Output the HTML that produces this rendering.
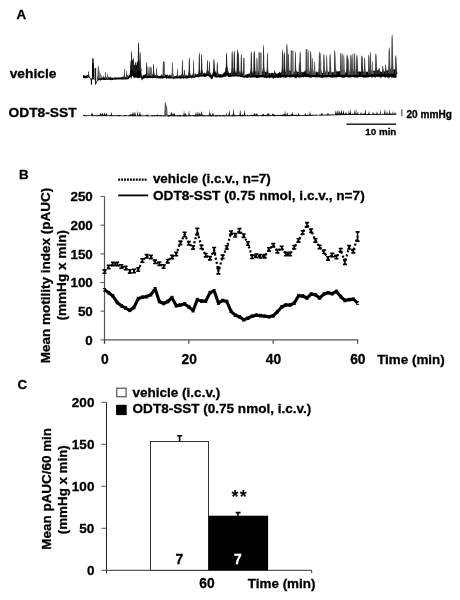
<!DOCTYPE html>
<html><head><meta charset="utf-8"><title>Figure</title>
<style>
html,body{margin:0;padding:0;background:#fff;}
svg{display:block;font-family:"Liberation Sans",sans-serif;font-weight:bold;fill:#000;}
text{stroke:#000;stroke-width:0.3px;}
</style></head><body>
<svg width="460" height="600" viewBox="0 0 460 600">
<rect width="460" height="600" fill="#fff"/>
<text x="16.6" y="18.7" font-size="13.4" text-anchor="start" >A</text>
<text transform="translate(9.7,77.6) scale(1.034,1)" font-size="13.35" text-anchor="start" >vehicle</text>
<text transform="translate(8.5,117.3) scale(1.034,1)" font-size="13.35" text-anchor="start" >ODT8-SST</text>
<polygon points="83.0,74.7 83.4,75.1 83.8,75.5 84.2,75.3 84.6,75.6 85.0,75.6 85.4,75.9 85.8,75.8 86.2,75.4 86.6,75.5 87.0,75.4 87.4,75.0 87.8,75.0 88.2,75.2 88.6,75.9 89.0,76.2 89.4,76.5 89.8,77.0 90.2,77.7 90.6,78.3 91.0,79.7 91.4,81.7 91.8,80.2 92.2,72.7 92.6,67.2 93.0,66.8 93.4,67.3 93.8,69.7 94.2,74.6 94.6,76.5 95.0,78.3 95.4,80.6 95.8,82.6 96.2,82.3 96.6,81.2 97.0,80.4 97.4,79.8 97.8,77.7 98.2,78.5 98.6,78.0 99.0,77.6 99.4,77.5 99.8,77.4 100.2,77.5 100.6,77.4 101.0,77.2 101.4,75.8 101.8,77.5 102.2,77.6 102.6,77.2 103.0,77.1 103.4,75.0 103.8,77.5 104.2,77.5 104.6,77.6 105.0,77.7 105.4,75.9 105.8,77.9 106.2,77.6 106.6,77.5 107.0,77.4 107.4,77.5 107.8,77.7 108.2,77.7 108.6,75.8 109.0,77.5 109.4,77.3 109.8,77.4 110.2,77.5 110.6,76.1 111.0,77.7 111.4,77.7 111.8,77.6 112.2,77.7 112.6,77.8 113.0,77.7 113.4,77.7 113.8,77.7 114.2,77.5 114.6,77.6 115.0,77.4 115.4,77.3 115.8,77.5 116.2,77.3 116.6,77.7 117.0,77.6 117.4,77.6 117.8,77.3 118.2,77.3 118.6,77.5 119.0,77.5 119.4,77.4 119.8,77.5 120.2,77.3 120.6,77.4 121.0,77.2 121.4,77.3 121.8,77.2 122.2,77.3 122.6,76.2 123.0,77.2 123.4,77.2 123.8,77.3 124.2,77.0 124.6,77.0 125.0,76.9 125.4,76.9 125.8,77.0 126.2,77.0 126.6,74.9 127.0,77.3 127.4,75.2 127.8,75.0 128.2,76.5 128.6,76.2 129.0,73.9 129.4,75.3 129.8,75.0 130.2,69.2 130.6,60.4 131.0,61.4 131.4,62.5 131.8,62.2 132.2,59.4 132.6,59.6 133.0,61.6 133.4,63.8 133.8,65.7 134.2,65.3 134.6,65.2 135.0,63.9 135.4,66.6 135.8,65.9 136.2,65.5 136.6,64.3 137.0,61.0 137.4,61.2 137.8,63.1 138.2,60.9 138.6,61.5 139.0,61.4 139.4,59.2 139.8,61.4 140.2,64.0 140.6,67.3 141.0,69.6 141.4,72.6 141.8,75.6 142.2,76.7 142.6,75.7 143.0,75.2 143.4,75.0 143.8,75.1 144.2,75.1 144.6,74.7 145.0,74.3 145.4,74.4 145.8,74.6 146.2,74.5 146.6,74.1 147.0,74.0 147.4,74.4 147.8,74.2 148.2,74.2 148.6,74.1 149.0,74.1 149.4,74.0 149.8,74.2 150.2,74.4 150.6,74.4 151.0,74.7 151.4,74.9 151.8,74.7 152.2,74.4 152.6,74.9 153.0,75.2 153.4,74.8 153.8,75.2 154.2,75.1 154.6,74.9 155.0,75.0 155.4,75.2 155.8,75.2 156.2,74.1 156.6,75.6 157.0,75.8 157.4,75.3 157.8,75.1 158.2,75.8 158.6,75.9 159.0,75.7 159.4,75.9 159.8,75.9 160.2,75.9 160.6,75.6 161.0,75.5 161.4,75.5 161.8,73.6 162.2,75.8 162.6,75.4 163.0,75.3 163.4,75.3 163.8,75.2 164.2,75.3 164.6,74.9 165.0,74.8 165.4,75.0 165.8,74.3 166.2,75.1 166.6,75.1 167.0,75.4 167.4,73.9 167.8,75.6 168.2,76.0 168.6,76.0 169.0,74.0 169.4,76.0 169.8,74.0 170.2,76.0 170.6,74.3 171.0,75.8 171.4,75.9 171.8,76.1 172.2,73.9 172.6,76.1 173.0,76.1 173.4,76.1 173.8,76.1 174.2,76.2 174.6,76.4 175.0,76.2 175.4,76.0 175.8,76.0 176.2,75.8 176.6,76.0 177.0,73.8 177.4,76.2 177.8,76.1 178.2,76.3 178.6,76.0 179.0,76.1 179.4,75.7 179.8,75.0 180.2,75.6 180.6,75.5 181.0,75.4 181.4,73.9 181.8,75.3 182.2,75.2 182.6,75.4 183.0,75.3 183.4,75.2 183.8,75.6 184.2,75.7 184.6,75.2 185.0,75.2 185.4,75.3 185.8,75.7 186.2,73.9 186.6,76.0 187.0,75.4 187.4,75.5 187.8,75.4 188.2,75.3 188.6,75.2 189.0,75.3 189.4,75.0 189.8,75.2 190.2,75.3 190.6,75.2 191.0,75.3 191.4,75.4 191.8,75.1 192.2,73.1 192.6,75.4 193.0,75.1 193.4,73.9 193.8,74.8 194.2,74.8 194.6,75.2 195.0,75.1 195.4,72.3 195.8,74.4 196.2,74.5 196.6,74.6 197.0,74.4 197.4,74.2 197.8,74.1 198.2,73.7 198.6,73.9 199.0,73.5 199.4,73.8 199.8,73.6 200.2,73.4 200.6,73.4 201.0,73.5 201.4,73.2 201.8,72.9 202.2,73.1 202.6,73.2 203.0,73.1 203.4,73.5 203.8,73.5 204.2,72.1 204.6,73.8 205.0,73.5 205.4,73.3 205.8,73.2 206.2,73.1 206.6,72.5 207.0,72.7 207.4,72.2 207.8,71.9 208.2,70.1 208.6,71.9 209.0,72.1 209.4,72.8 209.8,73.3 210.2,73.2 210.6,73.8 211.0,74.2 211.4,74.7 211.8,75.2 212.2,74.9 212.6,73.3 213.0,71.7 213.4,70.1 213.8,68.7 214.2,69.3 214.6,69.9 215.0,71.2 215.4,72.0 215.8,72.3 216.2,73.2 216.6,73.2 217.0,73.2 217.4,72.6 217.8,73.4 218.2,73.2 218.6,74.0 219.0,74.0 219.4,74.4 219.8,74.3 220.2,74.2 220.6,73.8 221.0,74.0 221.4,74.3 221.8,74.7 222.2,74.6 222.6,74.2 223.0,73.9 223.4,72.9 223.8,72.8 224.2,72.7 224.6,71.7 225.0,71.8 225.4,70.8 225.8,67.1 226.2,68.3 226.6,68.5 227.0,65.3 227.4,68.1 227.8,70.3 228.2,70.7 228.6,71.9 229.0,73.4 229.4,72.9 229.8,73.3 230.2,73.3 230.6,72.2 231.0,72.9 231.4,72.7 231.8,72.7 232.2,72.3 232.6,72.3 233.0,72.5 233.4,72.4 233.8,72.4 234.2,72.9 234.6,72.6 235.0,73.0 235.4,72.6 235.8,72.6 236.2,72.5 236.6,72.4 237.0,72.6 237.4,72.2 237.8,70.9 238.2,72.8 238.6,72.9 239.0,73.0 239.4,71.7 239.8,71.8 240.2,73.0 240.6,73.1 241.0,73.6 241.4,73.9 241.8,73.7 242.2,71.3 242.6,73.5 243.0,73.5 243.4,73.8 243.8,74.5 244.2,74.1 244.6,74.4 245.0,74.3 245.4,74.8 245.8,74.7 246.2,74.7 246.6,74.2 247.0,74.6 247.4,74.1 247.8,73.8 248.2,73.9 248.6,73.8 249.0,73.7 249.4,73.1 249.8,73.5 250.2,73.3 250.6,71.0 251.0,72.8 251.4,70.9 251.8,72.8 252.2,72.2 252.6,72.5 253.0,73.1 253.4,71.0 253.8,72.7 254.2,72.9 254.6,72.8 255.0,72.1 255.4,71.0 255.8,72.6 256.2,72.9 256.6,72.7 257.0,72.8 257.4,72.7 257.8,71.7 258.2,71.5 258.6,71.6 259.0,71.3 259.4,70.8 259.8,72.0 260.2,72.1 260.6,72.2 261.0,71.9 261.4,72.2 261.8,71.6 262.2,70.2 262.6,72.3 263.0,72.5 263.4,72.8 263.8,71.6 264.2,71.6 264.6,72.2 265.0,71.6 265.4,71.5 265.8,72.3 266.2,71.9 266.6,72.0 267.0,72.3 267.4,73.0 267.8,73.2 268.2,73.5 268.6,73.5 269.0,73.0 269.4,72.7 269.8,73.4 270.2,73.8 270.6,73.3 271.0,73.0 271.4,72.9 271.8,73.0 272.2,72.6 272.6,73.1 273.0,73.6 273.4,73.3 273.8,73.1 274.2,72.6 274.6,72.4 275.0,72.2 275.4,72.4 275.8,73.0 276.2,73.3 276.6,73.5 277.0,73.7 277.4,73.5 277.8,73.8 278.2,73.4 278.6,73.1 279.0,72.4 279.4,72.3 279.8,71.8 280.2,72.5 280.6,72.8 281.0,72.9 281.4,72.3 281.8,72.3 282.2,71.3 282.6,71.3 283.0,69.9 283.4,71.5 283.8,72.1 284.2,72.2 284.6,72.4 285.0,72.2 285.4,71.5 285.8,71.9 286.2,71.8 286.6,71.7 287.0,70.2 287.4,71.8 287.8,70.1 288.2,70.7 288.6,71.1 289.0,68.8 289.4,70.9 289.8,71.2 290.2,70.0 290.6,70.9 291.0,70.7 291.4,71.8 291.8,72.2 292.2,71.2 292.6,71.0 293.0,71.1 293.4,71.1 293.8,71.8 294.2,71.8 294.6,72.7 295.0,72.9 295.4,72.8 295.8,72.3 296.2,72.3 296.6,70.7 297.0,70.3 297.4,72.1 297.8,72.3 298.2,71.9 298.6,72.3 299.0,72.0 299.4,71.7 299.8,72.2 300.2,72.1 300.6,72.0 301.0,72.4 301.4,71.9 301.8,71.9 302.2,71.7 302.6,72.5 303.0,72.5 303.4,71.9 303.8,71.6 304.2,71.9 304.6,71.0 305.0,70.5 305.4,70.5 305.8,70.3 306.2,70.7 306.6,69.6 307.0,69.3 307.4,69.1 307.8,70.4 308.2,71.2 308.6,70.9 309.0,71.7 309.4,71.6 309.8,71.5 310.2,72.2 310.6,72.4 311.0,72.6 311.4,72.5 311.8,72.2 312.2,72.8 312.6,72.7 313.0,72.9 313.4,73.2 313.8,70.3 314.2,72.0 314.6,72.6 315.0,72.3 315.4,72.8 315.8,72.4 316.2,72.3 316.6,70.5 317.0,72.6 317.4,72.2 317.8,72.3 318.2,72.3 318.6,72.7 319.0,72.9 319.4,72.6 319.8,72.7 320.2,71.1 320.6,72.5 321.0,72.1 321.4,72.6 321.8,72.4 322.2,73.1 322.6,73.0 323.0,73.1 323.4,72.2 323.8,72.4 324.2,72.7 324.6,72.6 325.0,73.2 325.4,72.7 325.8,70.2 326.2,71.9 326.6,72.5 327.0,72.6 327.4,70.5 327.8,72.5 328.2,72.0 328.6,71.7 329.0,71.5 329.4,71.6 329.8,71.9 330.2,72.5 330.6,72.0 331.0,71.8 331.4,72.5 331.8,71.9 332.2,72.5 332.6,71.9 333.0,72.5 333.4,72.2 333.8,72.2 334.2,71.5 334.6,71.6 335.0,72.5 335.4,72.0 335.8,72.2 336.2,69.7 336.6,71.7 337.0,71.6 337.4,71.6 337.8,71.3 338.2,71.4 338.6,71.3 339.0,71.3 339.4,71.1 339.8,71.5 340.2,71.2 340.6,71.9 341.0,71.5 341.4,72.0 341.8,72.4 342.2,72.3 342.6,71.2 343.0,71.1 343.4,71.1 343.8,71.2 344.2,71.3 344.6,71.7 345.0,72.7 345.4,72.5 345.8,72.6 346.2,71.9 346.6,72.0 347.0,70.3 347.4,72.2 347.8,72.7 348.2,71.1 348.6,72.4 349.0,72.3 349.4,72.8 349.8,71.8 350.2,71.8 350.6,71.9 351.0,72.0 351.4,71.2 351.8,71.3 352.2,71.0 352.6,71.7 353.0,72.2 353.4,71.8 353.8,71.1 354.2,71.5 354.6,70.0 355.0,71.3 355.4,71.9 355.8,72.0 356.2,71.6 356.6,70.9 357.0,70.9 357.4,70.9 357.8,71.7 358.2,71.6 358.6,72.0 359.0,71.6 359.4,71.2 359.8,71.5 360.2,72.1 360.6,71.6 361.0,71.4 361.4,71.1 361.8,71.0 362.2,70.7 362.6,71.2 363.0,71.7 363.4,71.8 363.8,72.0 364.2,71.7 364.6,71.9 365.0,72.0 365.4,71.4 365.8,72.1 366.2,71.6 366.6,72.0 367.0,72.2 367.4,71.5 367.8,71.6 368.2,71.5 368.6,71.3 369.0,71.4 369.4,70.8 369.8,69.4 370.2,72.0 370.6,71.1 371.0,71.3 371.4,70.9 371.8,70.7 372.2,71.8 372.6,71.4 373.0,71.5 373.4,70.7 373.8,70.5 374.2,70.8 374.6,70.7 375.0,70.9 375.4,70.9 375.8,70.7 376.2,70.6 376.6,69.3 377.0,70.2 377.4,69.7 377.8,70.4 378.2,70.2 378.6,69.7 379.0,69.6 379.4,70.9 379.8,71.4 380.2,70.9 380.6,71.4 381.0,71.8 381.4,71.9 381.8,72.1 382.2,71.2 382.6,70.3 383.0,70.7 383.4,71.3 383.8,69.0 384.2,71.3 384.6,71.6 385.0,71.4 385.4,71.1 385.8,70.0 386.2,70.5 386.6,70.4 387.0,70.2 387.4,69.6 387.8,71.0 388.2,70.4 388.6,70.4 389.0,70.7 389.4,69.0 389.8,67.5 390.2,68.7 390.6,69.7 391.0,69.3 391.4,68.5 391.8,69.2 392.2,67.7 392.6,69.5 393.0,69.8 393.4,69.5 393.8,69.2 394.2,69.2 394.6,69.2 395.0,69.7 395.4,69.3 395.8,70.0 396.2,70.1 396.6,69.8 396.6,77.4 396.2,77.5 395.8,78.0 395.4,77.9 395.0,77.5 394.6,77.7 394.2,77.8 393.8,77.2 393.4,78.0 393.0,77.8 392.6,77.6 392.2,77.5 391.8,77.4 391.4,77.4 391.0,76.9 390.6,76.8 390.2,76.8 389.8,78.0 389.4,77.2 389.0,77.5 388.6,78.9 388.2,76.9 387.8,77.3 387.4,78.1 387.0,77.2 386.6,76.8 386.2,76.9 385.8,77.5 385.4,77.7 385.0,77.6 384.6,77.4 384.2,77.1 383.8,77.0 383.4,76.9 383.0,76.6 382.6,76.7 382.2,77.0 381.8,77.4 381.4,77.5 381.0,77.3 380.6,77.6 380.2,77.7 379.8,77.0 379.4,77.2 379.0,77.0 378.6,76.9 378.2,76.6 377.8,76.7 377.4,77.2 377.0,76.7 376.6,76.7 376.2,77.3 375.8,77.3 375.4,77.4 375.0,77.5 374.6,77.3 374.2,77.4 373.8,76.8 373.4,77.0 373.0,77.1 372.6,77.4 372.2,77.3 371.8,78.5 371.4,76.7 371.0,76.9 370.6,76.7 370.2,76.9 369.8,77.1 369.4,77.1 369.0,76.9 368.6,77.4 368.2,77.4 367.8,77.6 367.4,77.6 367.0,77.5 366.6,77.6 366.2,77.5 365.8,77.4 365.4,77.7 365.0,77.8 364.6,77.6 364.2,77.5 363.8,77.7 363.4,77.6 363.0,77.4 362.6,77.5 362.2,77.0 361.8,77.0 361.4,76.9 361.0,76.9 360.6,77.1 360.2,77.2 359.8,76.9 359.4,77.0 359.0,77.0 358.6,77.3 358.2,77.4 357.8,77.6 357.4,77.8 357.0,77.7 356.6,77.6 356.2,77.5 355.8,77.4 355.4,77.3 355.0,77.8 354.6,77.7 354.2,77.4 353.8,77.0 353.4,77.4 353.0,77.1 352.6,76.9 352.2,77.2 351.8,77.4 351.4,77.2 351.0,77.1 350.6,77.5 350.2,77.5 349.8,77.5 349.4,77.8 349.0,77.3 348.6,77.6 348.2,77.4 347.8,77.2 347.4,77.1 347.0,77.7 346.6,77.1 346.2,77.1 345.8,77.1 345.4,77.4 345.0,77.3 344.6,77.7 344.2,77.6 343.8,77.7 343.4,77.7 343.0,77.8 342.6,77.7 342.2,77.6 341.8,77.4 341.4,77.5 341.0,77.4 340.6,77.1 340.2,77.0 339.8,76.9 339.4,76.9 339.0,77.0 338.6,76.9 338.2,76.9 337.8,77.0 337.4,77.0 337.0,77.8 336.6,77.3 336.2,77.7 335.8,77.4 335.4,77.4 335.0,77.4 334.6,77.2 334.2,77.4 333.8,77.6 333.4,77.2 333.0,77.2 332.6,78.2 332.2,77.4 331.8,77.5 331.4,77.6 331.0,77.4 330.6,78.2 330.2,77.0 329.8,77.3 329.4,77.1 329.0,77.2 328.6,77.1 328.2,77.3 327.8,77.4 327.4,77.3 327.0,77.6 326.6,77.5 326.2,77.4 325.8,77.3 325.4,77.5 325.0,77.2 324.6,77.3 324.2,77.5 323.8,77.5 323.4,77.4 323.0,77.6 322.6,77.9 322.2,77.9 321.8,77.7 321.4,77.7 321.0,77.5 320.6,77.6 320.2,77.4 319.8,77.6 319.4,77.4 319.0,77.3 318.6,77.1 318.2,77.5 317.8,77.2 317.4,77.3 317.0,77.4 316.6,77.2 316.2,77.4 315.8,77.4 315.4,77.2 315.0,77.1 314.6,77.2 314.2,77.2 313.8,77.1 313.4,77.4 313.0,77.0 312.6,77.1 312.2,77.2 311.8,77.5 311.4,77.5 311.0,77.5 310.6,77.5 310.2,78.3 309.8,77.6 309.4,77.7 309.0,77.6 308.6,77.0 308.2,76.7 307.8,77.1 307.4,77.2 307.0,77.2 306.6,77.2 306.2,77.0 305.8,77.2 305.4,76.9 305.0,76.7 304.6,76.8 304.2,77.0 303.8,76.9 303.4,78.1 303.0,77.1 302.6,77.2 302.2,77.0 301.8,77.2 301.4,77.2 301.0,77.2 300.6,77.5 300.2,77.2 299.8,78.4 299.4,77.1 299.0,77.6 298.6,77.7 298.2,77.4 297.8,77.1 297.4,77.1 297.0,77.3 296.6,77.8 296.2,78.7 295.8,77.5 295.4,77.7 295.0,78.7 294.6,77.5 294.2,77.2 293.8,77.3 293.4,77.1 293.0,77.1 292.6,77.5 292.2,77.2 291.8,77.5 291.4,77.1 291.0,77.4 290.6,77.0 290.2,77.7 289.8,77.8 289.4,77.5 289.0,77.0 288.6,76.8 288.2,77.1 287.8,76.9 287.4,77.2 287.0,77.2 286.6,77.5 286.2,77.7 285.8,77.7 285.4,77.6 285.0,77.7 284.6,77.2 284.2,77.4 283.8,77.7 283.4,77.6 283.0,77.4 282.6,77.3 282.2,77.0 281.8,77.3 281.4,77.7 281.0,77.9 280.6,77.9 280.2,77.6 279.8,77.6 279.4,77.6 279.0,77.8 278.6,77.7 278.2,78.1 277.8,77.8 277.4,77.9 277.0,77.5 276.6,77.6 276.2,77.6 275.8,77.8 275.4,77.9 275.0,78.0 274.6,77.8 274.2,78.0 273.8,79.2 273.4,78.0 273.0,77.7 272.6,77.5 272.2,78.7 271.8,77.5 271.4,77.5 271.0,77.8 270.6,77.7 270.2,77.7 269.8,77.8 269.4,78.7 269.0,77.5 268.6,77.7 268.2,77.4 267.8,77.6 267.4,78.0 267.0,77.7 266.6,78.2 266.2,78.0 265.8,77.7 265.4,77.6 265.0,77.7 264.6,78.0 264.2,77.5 263.8,77.6 263.4,77.5 263.0,77.1 262.6,77.5 262.2,77.3 261.8,77.2 261.4,77.5 261.0,77.3 260.6,77.3 260.2,77.6 259.8,77.4 259.4,77.8 259.0,77.6 258.6,77.7 258.2,77.8 257.8,78.0 257.4,77.7 257.0,77.9 256.6,78.1 256.2,77.7 255.8,77.5 255.4,77.6 255.0,77.7 254.6,77.3 254.2,77.4 253.8,77.5 253.4,77.3 253.0,77.5 252.6,77.6 252.2,77.6 251.8,77.5 251.4,77.5 251.0,77.8 250.6,77.7 250.2,77.5 249.8,77.4 249.4,77.3 249.0,77.2 248.6,77.5 248.2,77.6 247.8,77.8 247.4,77.9 247.0,77.9 246.6,77.7 246.2,77.6 245.8,77.4 245.4,77.6 245.0,77.8 244.6,77.9 244.2,77.5 243.8,77.6 243.4,77.5 243.0,77.3 242.6,77.4 242.2,77.3 241.8,77.0 241.4,77.2 241.0,77.2 240.6,77.0 240.2,77.2 239.8,76.7 239.4,76.6 239.0,76.6 238.6,76.8 238.2,76.7 237.8,76.5 237.4,76.6 237.0,76.4 236.6,76.2 236.2,76.3 235.8,76.4 235.4,76.3 235.0,76.6 234.6,76.4 234.2,76.6 233.8,76.7 233.4,76.6 233.0,76.7 232.6,76.3 232.2,76.4 231.8,76.7 231.4,76.6 231.0,76.8 230.6,77.0 230.2,77.1 229.8,77.0 229.4,77.0 229.0,77.2 228.6,76.9 228.2,77.0 227.8,76.6 227.4,75.8 227.0,75.4 226.6,76.3 226.2,76.4 225.8,76.5 225.4,76.8 225.0,76.9 224.6,76.8 224.2,76.7 223.8,76.9 223.4,76.9 223.0,77.2 222.6,77.4 222.2,77.4 221.8,77.4 221.4,77.6 221.0,77.6 220.6,77.6 220.2,77.8 219.8,77.7 219.4,77.3 219.0,77.4 218.6,77.3 218.2,77.4 217.8,77.5 217.4,77.6 217.0,77.6 216.6,77.4 216.2,77.6 215.8,77.7 215.4,77.3 215.0,76.9 214.6,76.7 214.2,76.4 213.8,75.7 213.4,76.8 213.0,77.5 212.6,78.4 212.2,79.1 211.8,79.4 211.4,79.0 211.0,78.4 210.6,78.3 210.2,77.3 209.8,77.7 209.4,76.5 209.0,76.5 208.6,76.5 208.2,76.1 207.8,75.8 207.4,75.9 207.0,76.2 206.6,76.3 206.2,76.6 205.8,76.8 205.4,76.9 205.0,77.2 204.6,77.0 204.2,77.0 203.8,76.8 203.4,76.6 203.0,76.7 202.6,76.4 202.2,76.4 201.8,76.5 201.4,76.7 201.0,76.7 200.6,76.6 200.2,76.6 199.8,76.9 199.4,76.7 199.0,76.7 198.6,76.7 198.2,78.3 197.8,77.0 197.4,77.0 197.0,77.1 196.6,77.1 196.2,77.1 195.8,77.3 195.4,77.5 195.0,77.7 194.6,77.7 194.2,77.7 193.8,77.7 193.4,77.8 193.0,77.8 192.6,77.9 192.2,77.8 191.8,79.1 191.4,77.8 191.0,78.0 190.6,77.8 190.2,78.0 189.8,78.0 189.4,78.0 189.0,78.1 188.6,78.2 188.2,78.2 187.8,78.2 187.4,78.4 187.0,78.4 186.6,78.4 186.2,78.4 185.8,78.3 185.4,78.2 185.0,78.4 184.6,78.2 184.2,78.3 183.8,78.4 183.4,79.1 183.0,78.2 182.6,78.3 182.2,78.3 181.8,78.4 181.4,78.3 181.0,79.3 180.6,78.5 180.2,78.5 179.8,78.5 179.4,78.5 179.0,78.5 178.6,78.3 178.2,78.4 177.8,78.5 177.4,78.6 177.0,78.5 176.6,78.4 176.2,78.4 175.8,78.5 175.4,78.5 175.0,78.4 174.6,78.5 174.2,78.5 173.8,79.4 173.4,78.6 173.0,78.6 172.6,78.5 172.2,78.4 171.8,78.5 171.4,78.6 171.0,78.6 170.6,78.6 170.2,78.5 169.8,78.4 169.4,78.6 169.0,78.5 168.6,78.3 168.2,78.5 167.8,78.3 167.4,78.3 167.0,78.3 166.6,78.4 166.2,79.2 165.8,78.0 165.4,77.9 165.0,77.9 164.6,78.0 164.2,78.0 163.8,78.2 163.4,78.3 163.0,78.3 162.6,78.3 162.2,78.9 161.8,78.4 161.4,78.3 161.0,78.5 160.6,78.4 160.2,78.4 159.8,78.5 159.4,78.6 159.0,78.4 158.6,78.5 158.2,78.3 157.8,78.0 157.4,78.3 157.0,78.3 156.6,78.2 156.2,78.1 155.8,78.1 155.4,78.1 155.0,78.1 154.6,78.0 154.2,78.1 153.8,77.9 153.4,78.0 153.0,78.6 152.6,78.2 152.2,78.0 151.8,78.1 151.4,78.1 151.0,77.9 150.6,78.0 150.2,78.0 149.8,78.0 149.4,78.0 149.0,78.0 148.6,78.0 148.2,78.1 147.8,78.1 147.4,78.8 147.0,77.9 146.6,77.9 146.2,78.1 145.8,78.1 145.4,78.3 145.0,78.0 144.6,78.3 144.2,78.4 143.8,78.5 143.4,78.7 143.0,78.6 142.6,79.6 142.2,80.5 141.8,80.2 141.4,78.7 141.0,78.2 140.6,77.5 140.2,77.3 139.8,78.2 139.4,77.2 139.0,78.7 138.6,78.2 138.2,77.9 137.8,78.1 137.4,77.9 137.0,77.9 136.6,77.5 136.2,77.7 135.8,76.7 135.4,77.7 135.0,78.7 134.6,78.0 134.2,77.3 133.8,78.1 133.4,77.1 133.0,76.4 132.6,75.4 132.2,76.1 131.8,76.9 131.4,78.5 131.0,78.9 130.6,76.6 130.2,77.2 129.8,77.7 129.4,78.2 129.0,78.4 128.6,78.9 128.2,79.2 127.8,79.4 127.4,79.2 127.0,79.2 126.6,79.4 126.2,79.4 125.8,79.4 125.4,79.4 125.0,79.4 124.6,79.5 124.2,79.3 123.8,79.5 123.4,79.4 123.0,79.5 122.6,79.5 122.2,79.5 121.8,79.4 121.4,79.4 121.0,79.6 120.6,79.5 120.2,79.4 119.8,79.5 119.4,79.4 119.0,79.5 118.6,79.4 118.2,79.6 117.8,79.5 117.4,79.6 117.0,79.6 116.6,79.5 116.2,79.5 115.8,79.6 115.4,80.2 115.0,79.6 114.6,79.6 114.2,79.7 113.8,79.6 113.4,79.8 113.0,79.7 112.6,79.9 112.2,79.9 111.8,80.4 111.4,79.8 111.0,79.9 110.6,79.9 110.2,80.0 109.8,79.9 109.4,79.8 109.0,79.8 108.6,79.9 108.2,79.8 107.8,79.8 107.4,79.8 107.0,79.7 106.6,79.8 106.2,79.9 105.8,79.9 105.4,79.9 105.0,79.8 104.6,79.9 104.2,80.0 103.8,80.1 103.4,80.0 103.0,79.8 102.6,79.8 102.2,79.8 101.8,79.9 101.4,79.9 101.0,80.1 100.6,81.6 100.2,80.2 99.8,80.1 99.4,80.1 99.0,80.2 98.6,80.2 98.2,80.4 97.8,80.8 97.4,81.3 97.0,81.9 96.6,82.7 96.2,83.7 95.8,84.5 95.4,82.8 95.0,80.7 94.6,79.3 94.2,78.8 93.8,78.1 93.4,77.2 93.0,76.4 92.6,77.0 92.2,78.7 91.8,82.9 91.4,83.5 91.0,81.2 90.6,79.5 90.2,78.9 89.8,78.3 89.4,78.0 89.0,77.7 88.6,77.5 88.2,77.6 87.8,77.6 87.4,77.7 87.0,77.9 86.6,78.0 86.2,78.3 85.8,78.3 85.4,78.2 85.0,78.1 84.6,78.4 84.2,78.2 83.8,78.1 83.4,77.9 83.0,77.9" fill="#000"/>
<polygon points="87.30,76.3 88.00,74.8 88.90,75.1 90.00,76.3" fill="#111"/>
<polygon points="87.78,76.3 87.98,75.1 88.10,71.7 88.25,71.3 88.55,71.3 88.80,72.4 89.02,74.8 89.25,75.9 89.50,76.3" fill="#5a5a5a"/>
<polygon points="87.90,76.3 88.10,71.8 88.30,71.3 88.50,71.8 88.70,74.8 89.10,76.3" fill="#2a2a2a"/>
<polygon points="92.20,72.0 92.30,58.0 93.70,58.6 94.10,72.0" fill="#222"/>
<polygon points="91.90,72.0 92.25,58.0 92.75,58.3 93.00,72.0" fill="#333"/>
<polygon points="97.20,79.4 97.90,75.5 98.80,76.2 99.90,79.4" fill="#111"/>
<polygon points="97.52,79.4 97.77,76.0 97.92,67.1 98.11,66.0 98.49,66.0 98.80,68.9 99.08,75.4 99.36,78.3 99.67,79.4" fill="#444"/>
<polygon points="97.67,79.4 97.92,67.3 98.17,66.0 98.42,67.3 98.67,75.4 99.17,79.4" fill="#111"/>
<polygon points="104.30,78.6 105.00,76.8 105.90,77.2 107.00,78.6" fill="#111"/>
<polygon points="104.78,78.6 104.98,76.9 105.10,72.3 105.25,71.7 105.55,71.7 105.80,73.2 106.02,76.5 106.25,78.0 106.50,78.6" fill="#686868"/>
<polygon points="104.90,78.6 105.10,72.4 105.30,71.7 105.50,72.4 105.70,76.5 106.10,78.6" fill="#3c3c3c"/>
<polygon points="106.30,78.6 107.00,77.6 107.90,77.8 109.00,78.6" fill="#111"/>
<polygon points="106.78,78.6 106.98,77.3 107.10,73.9 107.25,73.5 107.55,73.5 107.80,74.6 108.02,77.1 108.25,78.2 108.50,78.6" fill="#767676"/>
<polygon points="106.90,78.6 107.10,74.0 107.30,73.5 107.50,74.0 107.70,77.1 108.10,78.6" fill="#555"/>
<polygon points="123.20,78.2 123.90,75.3 124.80,75.9 125.90,78.2" fill="#111"/>
<polygon points="123.68,78.2 123.88,75.8 124.00,69.3 124.15,68.5 124.45,68.5 124.70,70.6 124.92,75.3 125.15,77.4 125.40,78.2" fill="#686868"/>
<polygon points="123.80,78.2 124.00,69.5 124.20,68.5 124.40,69.5 124.60,75.3 125.00,78.2" fill="#3c3c3c"/>
<polygon points="125.50,78.1 126.20,76.4 127.10,76.7 128.20,78.1" fill="#111"/>
<polygon points="125.98,78.1 126.18,76.2 126.30,71.0 126.45,70.4 126.75,70.4 127.00,72.1 127.22,75.8 127.45,77.5 127.70,78.1" fill="#686868"/>
<polygon points="126.10,78.1 126.30,71.2 126.50,70.4 126.70,71.2 126.90,75.8 127.30,78.1" fill="#3c3c3c"/>
<polygon points="130.40,69.3 131.10,64.4 132.00,65.4 133.10,69.3" fill="#111"/>
<polygon points="130.72,69.3 130.97,64.7 131.12,52.4 131.31,50.9 131.69,50.9 132.00,54.9 132.28,63.8 132.56,67.8 132.88,69.3" fill="#4e4e4e"/>
<polygon points="130.88,69.3 131.12,52.7 131.38,50.9 131.62,52.7 131.88,63.8 132.38,69.3" fill="#1c1c1c"/>
<polygon points="132.40,70.4 133.10,67.5 134.00,68.1 135.10,70.4" fill="#111"/>
<polygon points="132.72,70.4 132.97,67.3 133.12,59.0 133.31,58.0 133.69,58.0 134.00,60.7 134.28,66.7 134.56,69.4 134.88,70.4" fill="#4e4e4e"/>
<polygon points="132.88,70.4 133.12,59.2 133.38,58.0 133.62,59.2 133.88,66.7 134.38,70.4" fill="#1c1c1c"/>
<polygon points="137.40,69.7 138.10,62.8 139.00,64.1 140.10,69.7" fill="#111"/>
<polygon points="137.57,69.7 137.87,62.9 138.05,44.6 138.28,42.4 138.72,42.4 139.10,48.4 139.43,61.5 139.78,67.5 140.15,69.7" fill="#444"/>
<polygon points="137.75,69.7 138.05,45.1 138.35,42.4 138.65,45.1 138.95,61.5 139.55,69.7" fill="#111"/>
<polygon points="139.10,71.1 139.80,65.1 140.70,66.3 141.80,71.1" fill="#111"/>
<polygon points="139.42,71.1 139.67,66.3 139.82,53.5 140.01,52.0 140.39,52.0 140.70,56.2 140.97,65.4 141.26,69.6 141.57,71.1" fill="#5a5a5a"/>
<polygon points="139.57,71.1 139.82,53.9 140.07,52.0 140.32,53.9 140.57,65.4 141.07,71.1" fill="#2a2a2a"/>
<polygon points="134.40,72.4 135.10,70.3 136.00,70.7 137.10,72.4" fill="#111"/>
<polygon points="134.72,72.4 134.97,69.8 135.12,62.8 135.31,62.0 135.69,62.0 136.00,64.3 136.28,69.2 136.56,71.5 136.88,72.4" fill="#444"/>
<polygon points="134.88,72.4 135.12,63.0 135.38,62.0 135.62,63.0 135.88,69.2 136.38,72.4" fill="#111"/>
<polygon points="145.50,76.0 146.20,72.6 147.10,73.3 148.20,76.0" fill="#111"/>
<polygon points="145.82,76.0 146.07,72.7 146.22,63.7 146.41,62.6 146.79,62.6 147.10,65.5 147.38,72.0 147.66,74.9 147.97,76.0" fill="#4e4e4e"/>
<polygon points="145.97,76.0 146.22,63.9 146.47,62.6 146.72,63.9 146.97,72.0 147.47,76.0" fill="#1c1c1c"/>
<polygon points="146.90,76.0 147.60,73.4 148.50,73.9 149.60,76.0" fill="#111"/>
<polygon points="147.38,76.0 147.58,73.6 147.70,67.3 147.85,66.5 148.15,66.5 148.40,68.6 148.62,73.2 148.85,75.2 149.10,76.0" fill="#767676"/>
<polygon points="147.50,76.0 147.70,67.5 147.90,66.5 148.10,67.5 148.30,73.2 148.70,76.0" fill="#555"/>
<polygon points="148.10,76.0 148.80,73.7 149.70,74.1 150.80,76.0" fill="#111"/>
<polygon points="148.58,76.0 148.78,73.7 148.90,67.5 149.05,66.8 149.35,66.8 149.60,68.8 149.82,73.2 150.05,75.3 150.30,76.0" fill="#767676"/>
<polygon points="148.70,76.0 148.90,67.7 149.10,66.8 149.30,67.7 149.50,73.2 149.90,76.0" fill="#555"/>
<polygon points="149.30,76.0 150.00,73.1 150.90,73.7 152.00,76.0" fill="#111"/>
<polygon points="149.78,76.0 149.98,73.7 150.10,67.3 150.25,66.5 150.55,66.5 150.80,68.6 151.02,73.2 151.25,75.3 151.50,76.0" fill="#767676"/>
<polygon points="149.90,76.0 150.10,67.5 150.30,66.5 150.50,67.5 150.70,73.2 151.10,76.0" fill="#555"/>
<polygon points="150.40,76.2 151.10,74.0 152.00,74.4 153.10,76.2" fill="#111"/>
<polygon points="150.88,76.2 151.08,73.9 151.20,67.7 151.35,67.0 151.65,67.0 151.90,69.0 152.12,73.4 152.35,75.4 152.60,76.2" fill="#767676"/>
<polygon points="151.00,76.2 151.20,67.9 151.40,67.0 151.60,67.9 151.80,73.4 152.20,76.2" fill="#555"/>
<polygon points="152.40,76.3 153.10,72.5 154.00,73.3 155.10,76.3" fill="#111"/>
<polygon points="152.72,76.3 152.97,73.3 153.12,65.0 153.31,64.0 153.69,64.0 154.00,66.7 154.28,72.6 154.56,75.4 154.88,76.3" fill="#4e4e4e"/>
<polygon points="152.88,76.3 153.12,65.2 153.38,64.0 153.62,65.2 153.88,72.6 154.38,76.3" fill="#1c1c1c"/>
<polygon points="155.40,76.7 156.10,74.2 157.00,74.7 158.10,76.7" fill="#111"/>
<polygon points="155.80,76.7 156.03,74.4 156.16,68.5 156.33,67.8 156.67,67.8 156.95,69.7 157.20,74.0 157.46,75.9 157.74,76.7" fill="#686868"/>
<polygon points="155.94,76.7 156.16,68.7 156.39,67.8 156.61,68.7 156.84,74.0 157.29,76.7" fill="#3c3c3c"/>
<polygon points="162.90,76.6 163.00,61.3 164.80,61.9 165.20,76.6" fill="#666"/>
<polygon points="162.60,76.6 162.95,61.3 163.45,61.6 163.70,76.6" fill="#333"/>
<polygon points="171.30,77.2 172.00,72.6 172.90,73.5 174.00,77.2" fill="#111"/>
<polygon points="171.55,77.2 171.82,73.5 171.99,63.8 172.19,62.6 172.61,62.6 172.95,65.8 173.25,72.8 173.57,76.0 173.91,77.2" fill="#767676"/>
<polygon points="171.71,77.2 171.99,64.1 172.26,62.6 172.54,64.1 172.81,72.8 173.36,77.2" fill="#555"/>
<polygon points="176.50,77.1 177.20,75.4 178.10,75.8 179.20,77.1" fill="#111"/>
<polygon points="176.98,77.1 177.18,74.9 177.30,69.2 177.45,68.5 177.75,68.5 178.00,70.4 178.22,74.5 178.45,76.4 178.70,77.1" fill="#686868"/>
<polygon points="177.10,77.1 177.30,69.4 177.50,68.5 177.70,69.4 177.90,74.5 178.30,77.1" fill="#3c3c3c"/>
<polygon points="181.30,76.8 182.00,73.3 182.90,74.0 184.00,76.8" fill="#111"/>
<polygon points="181.62,76.8 181.88,72.6 182.03,61.3 182.21,60.0 182.59,60.0 182.90,63.7 183.18,71.8 183.46,75.5 183.78,76.8" fill="#5a5a5a"/>
<polygon points="181.78,76.8 182.03,61.7 182.28,60.0 182.53,61.7 182.78,71.8 183.28,76.8" fill="#2a2a2a"/>
<polygon points="183.40,76.8 184.10,75.3 185.00,75.6 186.10,76.8" fill="#111"/>
<polygon points="183.80,76.8 184.03,75.0 184.16,70.4 184.33,69.8 184.67,69.8 184.95,71.3 185.20,74.7 185.46,76.2 185.74,76.8" fill="#5a5a5a"/>
<polygon points="183.94,76.8 184.16,70.5 184.39,69.8 184.61,70.5 184.84,74.7 185.29,76.8" fill="#2a2a2a"/>
<polygon points="188.20,76.7 188.90,70.8 189.80,72.0 190.90,76.7" fill="#111"/>
<polygon points="188.53,76.7 188.78,71.9 188.93,59.1 189.11,57.6 189.49,57.6 189.80,61.8 190.08,70.9 190.36,75.1 190.68,76.7" fill="#4e4e4e"/>
<polygon points="188.68,76.7 188.93,59.5 189.18,57.6 189.43,59.5 189.68,70.9 190.18,76.7" fill="#1c1c1c"/>
<polygon points="192.40,76.2 193.10,73.3 194.00,73.9 195.10,76.2" fill="#111"/>
<polygon points="192.80,76.2 193.03,72.2 193.16,61.3 193.33,60.0 193.67,60.0 193.95,63.6 194.20,71.4 194.46,75.0 194.74,76.2" fill="#686868"/>
<polygon points="192.94,76.2 193.16,61.6 193.39,60.0 193.61,61.6 193.84,71.4 194.29,76.2" fill="#3c3c3c"/>
<polygon points="198.20,75.0 198.90,70.2 199.80,71.1 200.90,75.0" fill="#111"/>
<polygon points="198.53,75.0 198.78,69.4 198.93,54.6 199.11,52.8 199.49,52.8 199.80,57.7 200.08,68.3 200.36,73.2 200.68,75.0" fill="#4e4e4e"/>
<polygon points="198.68,75.0 198.93,55.0 199.18,52.8 199.43,55.0 199.68,68.3 200.18,75.0" fill="#1c1c1c"/>
<polygon points="200.50,74.6 201.20,68.8 202.10,70.0 203.20,74.6" fill="#111"/>
<polygon points="200.82,74.6 201.07,69.5 201.22,55.7 201.41,54.1 201.79,54.1 202.10,58.6 202.38,68.4 202.66,72.9 202.97,74.6" fill="#4e4e4e"/>
<polygon points="200.97,74.6 201.22,56.1 201.47,54.1 201.72,56.1 201.97,68.4 202.47,74.6" fill="#1c1c1c"/>
<polygon points="206.30,73.9 207.00,69.5 207.90,70.4 209.00,73.9" fill="#111"/>
<polygon points="206.62,73.9 206.88,70.4 207.03,61.1 207.21,60.0 207.59,60.0 207.90,63.1 208.18,69.7 208.46,72.8 208.78,73.9" fill="#5a5a5a"/>
<polygon points="206.78,73.9 207.03,61.4 207.28,60.0 207.53,61.4 207.78,69.7 208.28,73.9" fill="#2a2a2a"/>
<polygon points="208.30,74.6 209.00,71.8 209.90,72.4 211.00,74.6" fill="#111"/>
<polygon points="208.70,74.6 208.93,71.2 209.06,62.4 209.23,61.3 209.57,61.3 209.85,64.2 210.10,70.6 210.36,73.5 210.64,74.6" fill="#5a5a5a"/>
<polygon points="208.84,74.6 209.06,62.6 209.29,61.3 209.51,62.6 209.74,70.6 210.19,74.6" fill="#2a2a2a"/>
<polygon points="212.90,72.0 213.60,68.9 214.50,69.5 215.60,72.0" fill="#111"/>
<polygon points="213.15,72.0 213.42,68.8 213.59,60.3 213.79,59.3 214.21,59.3 214.55,62.1 214.85,68.2 215.17,71.0 215.51,72.0" fill="#4e4e4e"/>
<polygon points="213.31,72.0 213.59,60.6 213.86,59.3 214.14,60.6 214.41,68.2 214.96,72.0" fill="#1c1c1c"/>
<polygon points="216.20,75.3 216.90,71.8 217.80,72.5 218.90,75.3" fill="#111"/>
<polygon points="216.53,75.3 216.78,72.1 216.93,63.6 217.11,62.6 217.49,62.6 217.80,65.4 218.08,71.5 218.36,74.3 218.68,75.3" fill="#5a5a5a"/>
<polygon points="216.68,75.3 216.93,63.9 217.18,62.6 217.43,63.9 217.68,71.5 218.18,75.3" fill="#2a2a2a"/>
<polygon points="225.40,72.5 226.10,67.0 227.00,68.1 228.10,72.5" fill="#111"/>
<polygon points="225.65,72.5 225.92,67.6 226.09,54.4 226.29,52.8 226.71,52.8 227.05,57.1 227.35,66.6 227.67,70.9 228.01,72.5" fill="#444"/>
<polygon points="225.81,72.5 226.09,54.8 226.36,52.8 226.64,54.8 226.91,66.6 227.46,72.5" fill="#111"/>
<polygon points="231.10,74.5 231.80,67.8 232.70,69.1 233.80,74.5" fill="#111"/>
<polygon points="231.42,74.5 231.67,68.6 231.82,52.8 232.01,50.9 232.39,50.9 232.70,56.1 232.97,67.4 233.26,72.6 233.57,74.5" fill="#4e4e4e"/>
<polygon points="231.57,74.5 231.82,53.3 232.07,50.9 232.32,53.3 232.57,67.4 233.07,74.5" fill="#1c1c1c"/>
<polygon points="233.20,74.5 233.90,67.8 234.80,69.1 235.90,74.5" fill="#111"/>
<polygon points="233.45,74.5 233.72,68.6 233.89,52.8 234.09,50.9 234.51,50.9 234.85,56.1 235.15,67.4 235.47,72.6 235.81,74.5" fill="#444"/>
<polygon points="233.61,74.5 233.89,53.3 234.16,50.9 234.44,53.3 234.71,67.4 235.26,74.5" fill="#111"/>
<polygon points="236.30,74.7 237.00,69.3 237.90,70.4 239.00,74.7" fill="#111"/>
<polygon points="236.55,74.7 236.82,68.4 236.99,51.6 237.19,49.6 237.61,49.6 237.95,55.1 238.25,67.2 238.57,72.7 238.91,74.7" fill="#4e4e4e"/>
<polygon points="236.71,74.7 236.99,52.1 237.26,49.6 237.54,52.1 237.81,67.2 238.36,74.7" fill="#1c1c1c"/>
<polygon points="237.40,74.8 238.10,69.9 239.00,70.9 240.10,74.8" fill="#111"/>
<polygon points="237.72,74.8 237.97,69.2 238.12,54.0 238.31,52.2 238.69,52.2 239.00,57.2 239.28,68.0 239.56,73.0 239.88,74.8" fill="#5a5a5a"/>
<polygon points="237.88,74.8 238.12,54.5 238.38,52.2 238.62,54.5 238.88,68.0 239.38,74.8" fill="#2a2a2a"/>
<polygon points="240.20,75.2 240.90,71.3 241.80,72.1 242.90,75.2" fill="#111"/>
<polygon points="240.53,75.2 240.78,69.9 240.93,55.8 241.11,54.1 241.49,54.1 241.80,58.7 242.08,68.9 242.36,73.5 242.68,75.2" fill="#4e4e4e"/>
<polygon points="240.68,75.2 240.93,56.2 241.18,54.1 241.43,56.2 241.68,68.9 242.18,75.2" fill="#1c1c1c"/>
<polygon points="243.30,75.7 243.40,57.7 244.80,58.3 245.20,75.7" fill="#888"/>
<polygon points="243.00,75.7 243.35,57.7 243.85,58.0 244.10,75.7" fill="#333"/>
<polygon points="250.20,75.3 250.90,68.7 251.80,70.1 252.90,75.3" fill="#111"/>
<polygon points="250.45,75.3 250.72,69.4 250.89,53.4 251.09,51.5 251.51,51.5 251.85,56.7 252.15,68.2 252.47,73.4 252.81,75.3" fill="#4e4e4e"/>
<polygon points="250.61,75.3 250.89,53.9 251.16,51.5 251.44,53.9 251.71,68.2 252.26,75.3" fill="#1c1c1c"/>
<polygon points="253.20,75.0 253.90,70.0 254.80,71.0 255.90,75.0" fill="#111"/>
<polygon points="253.29,75.0 253.62,69.0 253.81,52.8 254.06,50.9 254.54,50.9 254.95,56.2 255.31,67.8 255.68,73.1 256.09,75.0" fill="#444"/>
<polygon points="253.49,75.0 253.81,53.3 254.14,50.9 254.46,53.3 254.79,67.8 255.44,75.0" fill="#111"/>
<polygon points="255.90,75.0 256.60,71.2 257.50,72.0 258.60,75.0" fill="#111"/>
<polygon points="256.23,75.0 256.48,70.6 256.62,58.8 256.81,57.4 257.19,57.4 257.50,61.3 257.77,69.7 258.06,73.6 258.38,75.0" fill="#686868"/>
<polygon points="256.38,75.0 256.62,59.2 256.88,57.4 257.12,59.2 257.38,69.7 257.88,75.0" fill="#3c3c3c"/>
<polygon points="258.70,74.9 258.80,52.2 261.60,52.8 262.00,74.9" fill="#777"/>
<polygon points="258.40,74.9 258.75,52.2 259.25,52.5 259.50,74.9" fill="#333"/>
<polygon points="262.40,74.9 263.10,65.5 264.00,67.3 265.10,74.9" fill="#111"/>
<polygon points="262.65,74.9 262.92,67.4 263.09,47.4 263.29,45.0 263.71,45.0 264.05,51.6 264.35,65.9 264.67,72.5 265.01,74.9" fill="#5a5a5a"/>
<polygon points="262.81,74.9 263.09,48.0 263.36,45.0 263.64,48.0 263.91,65.9 264.46,74.9" fill="#2a2a2a"/>
<polygon points="266.30,75.2 267.00,69.1 267.90,70.3 269.00,75.2" fill="#111"/>
<polygon points="266.62,75.2 266.88,69.6 267.02,54.6 267.21,52.8 267.59,52.8 267.90,57.7 268.17,68.5 268.46,73.4 268.77,75.2" fill="#5a5a5a"/>
<polygon points="266.77,75.2 267.02,55.0 267.27,52.8 267.52,55.0 267.77,68.5 268.27,75.2" fill="#2a2a2a"/>
<polygon points="273.50,75.2 274.20,74.0 275.10,74.2 276.20,75.2" fill="#111"/>
<polygon points="273.98,75.2 274.18,74.0 274.30,70.8 274.45,70.4 274.75,70.4 275.00,71.5 275.22,73.8 275.45,74.8 275.70,75.2" fill="#5a5a5a"/>
<polygon points="274.10,75.2 274.30,70.9 274.50,70.4 274.70,70.9 274.90,73.8 275.30,75.2" fill="#2a2a2a"/>
<polygon points="281.30,74.7 282.00,67.9 282.90,69.3 284.00,74.7" fill="#111"/>
<polygon points="281.62,74.7 281.88,68.5 282.02,51.6 282.21,49.6 282.59,49.6 282.90,55.1 283.17,67.2 283.46,72.7 283.77,74.7" fill="#5a5a5a"/>
<polygon points="281.77,74.7 282.02,52.1 282.27,49.6 282.52,52.1 282.77,67.2 283.27,74.7" fill="#2a2a2a"/>
<polygon points="283.20,74.5 283.90,68.7 284.80,69.8 285.90,74.5" fill="#111"/>
<polygon points="283.29,74.5 283.62,69.0 283.81,54.0 284.06,52.2 284.54,52.2 284.95,57.1 285.31,67.8 285.68,72.8 286.09,74.5" fill="#4e4e4e"/>
<polygon points="283.49,74.5 283.81,54.4 284.14,52.2 284.46,54.4 284.79,67.8 285.44,74.5" fill="#1c1c1c"/>
<polygon points="285.90,74.4 286.60,65.9 287.50,67.6 288.60,74.4" fill="#111"/>
<polygon points="285.92,74.4 286.26,66.8 286.48,46.2 286.74,43.7 287.26,43.7 287.70,50.5 288.08,65.2 288.49,72.0 288.93,74.4" fill="#686868"/>
<polygon points="286.12,74.4 286.48,46.8 286.82,43.7 287.18,46.8 287.52,65.2 288.23,74.4" fill="#3c3c3c"/>
<polygon points="287.40,74.4 288.10,69.8 289.00,70.7 290.10,74.4" fill="#111"/>
<polygon points="287.73,74.4 287.98,69.2 288.12,55.2 288.31,53.5 288.69,53.5 289.00,58.1 289.27,68.1 289.56,72.7 289.88,74.4" fill="#686868"/>
<polygon points="287.88,74.4 288.12,55.6 288.38,53.5 288.62,55.6 288.88,68.1 289.38,74.4" fill="#3c3c3c"/>
<polygon points="290.80,74.6 290.90,50.2 293.50,50.8 293.90,74.6" fill="#777"/>
<polygon points="290.50,74.6 290.85,50.2 291.35,50.5 291.60,74.6" fill="#333"/>
<polygon points="294.30,74.7 295.00,70.3 295.90,71.2 297.00,74.7" fill="#111"/>
<polygon points="294.62,74.7 294.88,68.9 295.02,53.4 295.21,51.5 295.59,51.5 295.90,56.6 296.17,67.8 296.46,72.9 296.77,74.7" fill="#5a5a5a"/>
<polygon points="294.77,74.7 295.02,53.8 295.27,51.5 295.52,53.8 295.77,67.8 296.27,74.7" fill="#2a2a2a"/>
<polygon points="298.20,74.6 298.90,72.4 299.80,72.8 300.90,74.6" fill="#111"/>
<polygon points="298.53,74.6 298.78,71.6 298.93,63.6 299.11,62.6 299.49,62.6 299.80,65.3 300.07,71.0 300.36,73.7 300.68,74.6" fill="#686868"/>
<polygon points="298.68,74.6 298.93,63.8 299.18,62.6 299.43,63.8 299.68,71.0 300.18,74.6" fill="#3c3c3c"/>
<polygon points="299.10,74.6 299.80,70.4 300.70,71.2 301.80,74.6" fill="#111"/>
<polygon points="299.35,74.6 299.62,68.8 299.79,53.3 299.99,51.5 300.41,51.5 300.75,56.6 301.05,67.7 301.37,72.7 301.71,74.6" fill="#5a5a5a"/>
<polygon points="299.51,74.6 299.79,53.8 300.06,51.5 300.34,53.8 300.61,67.7 301.16,74.6" fill="#2a2a2a"/>
<polygon points="305.80,73.3 305.90,48.9 307.50,49.5 307.90,73.3" fill="#666"/>
<polygon points="305.50,73.3 305.85,48.9 306.35,49.2 306.60,73.3" fill="#333"/>
<polygon points="307.20,74.0 307.90,68.4 308.80,69.6 309.90,74.0" fill="#111"/>
<polygon points="307.53,74.0 307.78,68.0 307.93,51.9 308.11,50.0 308.49,50.0 308.80,55.3 309.07,66.8 309.36,72.1 309.68,74.0" fill="#767676"/>
<polygon points="307.68,74.0 307.93,52.4 308.18,50.0 308.43,52.4 308.68,66.8 309.18,74.0" fill="#555"/>
<polygon points="309.60,74.5 310.30,69.8 311.20,70.8 312.30,74.5" fill="#111"/>
<polygon points="309.62,74.5 309.96,68.6 310.18,52.8 310.44,50.9 310.96,50.9 311.40,56.1 311.78,67.4 312.19,72.6 312.62,74.5" fill="#686868"/>
<polygon points="309.82,74.5 310.18,53.3 310.52,50.9 310.88,53.3 311.22,67.4 311.93,74.5" fill="#3c3c3c"/>
<polygon points="311.50,74.7 312.20,71.4 313.10,72.1 314.20,74.7" fill="#111"/>
<polygon points="311.83,74.7 312.08,70.5 312.23,59.3 312.41,58.0 312.79,58.0 313.10,61.7 313.38,69.7 313.66,73.4 313.98,74.7" fill="#767676"/>
<polygon points="311.98,74.7 312.23,59.7 312.48,58.0 312.73,59.7 312.98,69.7 313.48,74.7" fill="#555"/>
<polygon points="313.50,74.8 314.20,71.5 315.10,72.1 316.20,74.8" fill="#111"/>
<polygon points="313.83,74.8 314.08,71.4 314.23,62.4 314.41,61.3 314.79,61.3 315.10,64.3 315.38,70.8 315.66,73.7 315.98,74.8" fill="#767676"/>
<polygon points="313.98,74.8 314.23,62.7 314.48,61.3 314.73,62.7 314.98,70.8 315.48,74.8" fill="#555"/>
<polygon points="318.30,75.0 319.00,67.6 319.90,69.1 321.00,75.0" fill="#111"/>
<polygon points="318.47,75.0 318.77,69.1 318.95,53.4 319.17,51.5 319.62,51.5 320.00,56.7 320.33,68.0 320.67,73.1 321.05,75.0" fill="#686868"/>
<polygon points="318.65,75.0 318.95,53.9 319.25,51.5 319.55,53.9 319.85,68.0 320.45,75.0" fill="#3c3c3c"/>
<polygon points="319.50,75.0 320.20,68.9 321.10,70.1 322.20,75.0" fill="#111"/>
<polygon points="319.90,75.0 320.13,69.5 320.26,54.6 320.43,52.8 320.77,52.8 321.05,57.7 321.30,68.3 321.56,73.2 321.84,75.0" fill="#767676"/>
<polygon points="320.04,75.0 320.26,55.0 320.49,52.8 320.71,55.0 320.94,68.3 321.39,75.0" fill="#555"/>
<polygon points="322.90,75.0 323.60,70.4 324.50,71.4 325.60,75.0" fill="#111"/>
<polygon points="322.99,75.0 323.32,69.8 323.51,55.8 323.76,54.1 324.24,54.1 324.65,58.7 325.01,68.7 325.38,73.3 325.79,75.0" fill="#686868"/>
<polygon points="323.19,75.0 323.51,56.2 323.84,54.1 324.16,56.2 324.49,68.7 325.14,75.0" fill="#3c3c3c"/>
<polygon points="325.60,74.9 326.30,69.1 327.20,70.3 328.30,74.9" fill="#111"/>
<polygon points="325.85,74.9 326.12,69.9 326.29,56.4 326.49,54.8 326.91,54.8 327.25,59.2 327.55,68.9 327.87,73.3 328.21,74.9" fill="#767676"/>
<polygon points="326.01,74.9 326.29,56.8 326.56,54.8 326.84,56.8 327.11,68.9 327.66,74.9" fill="#555"/>
<polygon points="329.10,74.8 329.80,70.6 330.70,71.4 331.80,74.8" fill="#111"/>
<polygon points="329.19,74.8 329.52,69.6 329.71,55.8 329.96,54.1 330.44,54.1 330.85,58.7 331.21,68.6 331.58,73.1 331.99,74.8" fill="#686868"/>
<polygon points="329.39,74.8 329.71,56.2 330.04,54.1 330.36,56.2 330.69,68.6 331.34,74.8" fill="#3c3c3c"/>
<polygon points="333.70,74.6 334.40,69.9 335.30,70.8 336.40,74.6" fill="#111"/>
<polygon points="333.72,74.6 334.06,68.5 334.28,52.2 334.54,50.2 335.06,50.2 335.50,55.6 335.88,67.3 336.29,72.7 336.73,74.6" fill="#686868"/>
<polygon points="333.93,74.6 334.28,52.6 334.62,50.2 334.98,52.6 335.32,67.3 336.03,74.6" fill="#3c3c3c"/>
<polygon points="339.80,74.6 340.50,69.8 341.40,70.7 342.50,74.6" fill="#111"/>
<polygon points="339.97,74.6 340.27,69.1 340.45,54.5 340.67,52.8 341.12,52.8 341.50,57.6 341.83,68.1 342.17,72.9 342.55,74.6" fill="#686868"/>
<polygon points="340.15,74.6 340.45,55.0 340.75,52.8 341.05,55.0 341.35,68.1 341.95,74.6" fill="#3c3c3c"/>
<polygon points="341.10,74.6 341.80,69.4 342.70,70.5 343.80,74.6" fill="#111"/>
<polygon points="341.35,74.6 341.62,69.1 341.79,54.5 341.99,52.8 342.41,52.8 342.75,57.6 343.05,68.1 343.37,72.9 343.71,74.6" fill="#767676"/>
<polygon points="341.51,74.6 341.79,55.0 342.06,52.8 342.34,55.0 342.61,68.1 343.16,74.6" fill="#555"/>
<polygon points="342.80,74.6 343.50,69.1 344.40,70.2 345.50,74.6" fill="#111"/>
<polygon points="343.12,74.6 343.38,69.6 343.52,56.4 343.71,54.8 344.09,54.8 344.40,59.2 344.67,68.7 344.96,73.0 345.27,74.6" fill="#767676"/>
<polygon points="343.27,74.6 343.52,56.8 343.77,54.8 344.02,56.8 344.27,68.7 344.77,74.6" fill="#555"/>
<polygon points="346.10,74.6 346.80,69.8 347.70,70.8 348.80,74.6" fill="#111"/>
<polygon points="346.19,74.6 346.52,69.6 346.71,56.4 346.96,54.8 347.44,54.8 347.85,59.2 348.21,68.7 348.58,73.0 348.99,74.6" fill="#4e4e4e"/>
<polygon points="346.39,74.6 346.71,56.8 347.04,54.8 347.36,56.8 347.69,68.7 348.34,74.6" fill="#1c1c1c"/>
<polygon points="347.60,74.6 348.30,69.9 349.20,70.8 350.30,74.6" fill="#111"/>
<polygon points="348.00,74.6 348.23,70.4 348.36,59.3 348.53,58.0 348.87,58.0 349.15,61.6 349.40,69.6 349.66,73.3 349.94,74.6" fill="#767676"/>
<polygon points="348.14,74.6 348.36,59.7 348.59,58.0 348.81,59.7 349.04,69.6 349.49,74.6" fill="#555"/>
<polygon points="349.90,74.5 350.60,70.7 351.50,71.5 352.60,74.5" fill="#111"/>
<polygon points="349.99,74.5 350.32,69.6 350.51,56.4 350.76,54.8 351.24,54.8 351.65,59.1 352.01,68.6 352.38,73.0 352.79,74.5" fill="#686868"/>
<polygon points="350.19,74.5 350.51,56.8 350.84,54.8 351.16,56.8 351.49,68.6 352.14,74.5" fill="#3c3c3c"/>
<polygon points="351.10,74.5 351.80,68.0 352.70,69.3 353.80,74.5" fill="#111"/>
<polygon points="351.50,74.5 351.73,69.3 351.86,55.2 352.03,53.5 352.37,53.5 352.65,58.1 352.90,68.2 353.16,72.8 353.44,74.5" fill="#686868"/>
<polygon points="351.64,74.5 351.86,55.6 352.09,53.5 352.31,55.6 352.54,68.2 352.99,74.5" fill="#3c3c3c"/>
<polygon points="353.30,74.5 354.00,69.6 354.90,70.6 356.00,74.5" fill="#111"/>
<polygon points="353.31,74.5 353.66,69.1 353.88,54.7 354.14,53.0 354.66,53.0 355.10,57.7 355.48,68.0 355.89,72.8 356.32,74.5" fill="#686868"/>
<polygon points="353.52,74.5 353.88,55.1 354.22,53.0 354.57,55.1 354.92,68.0 355.62,74.5" fill="#3c3c3c"/>
<polygon points="355.90,74.5 356.60,68.6 357.50,69.8 358.60,74.5" fill="#111"/>
<polygon points="355.99,74.5 356.32,69.5 356.51,56.4 356.76,54.8 357.24,54.8 357.65,59.1 358.01,68.6 358.38,72.9 358.79,74.5" fill="#5a5a5a"/>
<polygon points="356.19,74.5 356.51,56.8 356.84,54.8 357.16,56.8 357.49,68.6 358.14,74.5" fill="#2a2a2a"/>
<polygon points="360.90,74.4 361.60,70.9 362.50,71.6 363.60,74.4" fill="#111"/>
<polygon points="360.92,74.4 361.26,69.7 361.48,56.9 361.74,55.4 362.26,55.4 362.70,59.6 363.08,68.7 363.49,72.9 363.93,74.4" fill="#4e4e4e"/>
<polygon points="361.12,74.4 361.48,57.3 361.82,55.4 362.18,57.3 362.52,68.7 363.23,74.4" fill="#1c1c1c"/>
<polygon points="363.50,74.4 364.20,69.4 365.10,70.4 366.20,74.4" fill="#111"/>
<polygon points="363.67,74.4 363.97,70.2 364.15,58.8 364.38,57.4 364.83,57.4 365.20,61.1 365.53,69.3 365.88,73.0 366.25,74.4" fill="#686868"/>
<polygon points="363.85,74.4 364.15,59.1 364.45,57.4 364.75,59.1 365.05,69.3 365.65,74.4" fill="#3c3c3c"/>
<polygon points="367.80,74.2 368.50,70.1 369.40,70.9 370.50,74.2" fill="#111"/>
<polygon points="367.97,74.2 368.27,69.4 368.45,56.4 368.67,54.8 369.12,54.8 369.50,59.1 369.83,68.4 370.17,72.7 370.55,74.2" fill="#686868"/>
<polygon points="368.15,74.2 368.45,56.7 368.75,54.8 369.05,56.7 369.35,68.4 369.95,74.2" fill="#3c3c3c"/>
<polygon points="369.30,74.1 370.00,67.5 370.90,68.9 372.00,74.1" fill="#111"/>
<polygon points="369.47,74.1 369.77,68.6 369.95,54.0 370.17,52.2 370.62,52.2 371.00,57.0 371.33,67.5 371.67,72.4 372.05,74.1" fill="#686868"/>
<polygon points="369.65,74.1 369.95,54.4 370.25,52.2 370.55,54.4 370.85,67.5 371.45,74.1" fill="#3c3c3c"/>
<polygon points="371.30,74.0 372.00,70.3 372.90,71.0 374.00,74.0" fill="#111"/>
<polygon points="371.62,74.0 371.88,70.8 372.02,62.3 372.21,61.3 372.59,61.3 372.90,64.1 373.17,70.2 373.46,73.0 373.77,74.0" fill="#868686"/>
<polygon points="371.77,74.0 372.02,62.6 372.27,61.3 372.52,62.6 372.77,70.2 373.27,74.0" fill="#6a6a6a"/>
<polygon points="374.90,73.8 375.60,68.2 376.50,69.4 377.60,73.8" fill="#111"/>
<polygon points="375.07,73.8 375.37,68.7 375.55,55.1 375.77,53.5 376.23,53.5 376.60,58.0 376.93,67.7 377.27,72.2 377.65,73.8" fill="#5a5a5a"/>
<polygon points="375.25,73.8 375.55,55.5 375.85,53.5 376.15,55.5 376.45,67.7 377.05,73.8" fill="#2a2a2a"/>
<polygon points="378.10,74.0 378.80,72.6 379.70,72.9 380.80,74.0" fill="#111"/>
<polygon points="378.43,74.0 378.68,72.4 378.82,68.3 379.01,67.8 379.39,67.8 379.70,69.2 379.97,72.1 380.26,73.5 380.57,74.0" fill="#5a5a5a"/>
<polygon points="378.57,74.0 378.82,68.4 379.07,67.8 379.32,68.4 379.57,72.1 380.07,74.0" fill="#2a2a2a"/>
<polygon points="381.70,74.0 382.40,72.5 383.30,72.8 384.40,74.0" fill="#111"/>
<polygon points="382.03,74.0 382.28,72.0 382.43,66.5 382.61,65.9 382.99,65.9 383.30,67.7 383.57,71.6 383.86,73.4 384.18,74.0" fill="#5a5a5a"/>
<polygon points="382.18,74.0 382.43,66.7 382.68,65.9 382.93,66.7 383.18,71.6 383.68,74.0" fill="#2a2a2a"/>
<polygon points="384.60,73.9 385.30,72.0 386.20,72.4 387.30,73.9" fill="#111"/>
<polygon points="384.93,73.9 385.18,71.6 385.32,65.3 385.51,64.6 385.89,64.6 386.20,66.6 386.47,71.1 386.76,73.2 387.07,73.9" fill="#5a5a5a"/>
<polygon points="385.07,73.9 385.32,65.5 385.57,64.6 385.82,65.5 386.07,71.1 386.57,73.9" fill="#2a2a2a"/>
<polygon points="388.20,73.6 388.90,65.6 389.80,67.2 390.90,73.6" fill="#111"/>
<polygon points="388.29,73.6 388.62,67.1 388.81,49.7 389.06,47.6 389.54,47.6 389.95,53.3 390.31,65.8 390.68,71.5 391.09,73.6" fill="#686868"/>
<polygon points="388.49,73.6 388.81,50.2 389.14,47.6 389.46,50.2 389.79,65.8 390.44,73.6" fill="#3c3c3c"/>
<polygon points="391.10,73.2 391.80,65.4 392.70,66.9 393.80,73.2" fill="#111"/>
<polygon points="391.19,73.2 391.52,63.5 391.71,37.7 391.96,34.6 392.44,34.6 392.85,43.1 393.21,61.6 393.58,70.1 393.99,73.2" fill="#686868"/>
<polygon points="391.39,73.2 391.71,38.5 392.04,34.6 392.36,38.5 392.69,61.6 393.34,73.2" fill="#3c3c3c"/>
<polygon points="394.80,73.7 395.50,68.7 396.40,69.7 397.50,73.7" fill="#111"/>
<polygon points="394.97,73.7 395.27,69.1 395.45,56.9 395.67,55.4 396.12,55.4 396.50,59.4 396.83,68.2 397.17,72.2 397.55,73.7" fill="#5a5a5a"/>
<polygon points="395.15,73.7 395.45,57.2 395.75,55.4 396.05,57.2 396.35,68.2 396.95,73.7" fill="#2a2a2a"/>
<polygon points="94,80 94,68.5 95,68 96,69.5 96.2,80" fill="#888"/>
<rect x="95.1" y="68" width="1" height="16.6" fill="#111"/>
<rect x="90.9" y="78.5" width="1.1" height="6.2" fill="#000"/>
<polygon points="98.3,66.5 99.3,70.5 100.6,74 102,76.5 103.5,78 98.3,78.5" fill="#777"/>
<polygon points="92.2,79.5 92.2,63.5 93.0,62.5 93.8,64 93.9,79.5" fill="#000"/>
<polygon points="83.0,115.1 83.5,115.3 84.0,115.2 84.5,114.6 85.0,115.3 85.5,115.0 86.0,115.3 86.5,115.3 87.0,115.3 87.5,115.3 88.0,115.2 88.5,115.2 89.0,115.1 89.5,115.4 90.0,115.2 90.5,115.4 91.0,114.9 91.5,113.9 92.0,112.3 92.5,113.8 93.0,114.5 93.5,115.4 94.0,115.3 94.5,115.3 95.0,114.9 95.5,115.4 96.0,115.3 96.5,115.4 97.0,114.2 97.5,115.4 98.0,115.1 98.5,115.1 99.0,115.0 99.5,115.0 100.0,114.4 100.5,112.8 101.0,114.0 101.5,115.1 102.0,113.6 102.5,112.8 103.0,113.9 103.5,115.2 104.0,114.1 104.5,112.5 105.0,113.7 105.5,115.3 106.0,114.1 106.5,113.1 107.0,114.1 107.5,115.4 108.0,114.9 108.5,115.2 109.0,115.4 109.5,115.1 110.0,115.0 110.5,114.9 111.0,113.9 111.5,111.8 112.0,114.9 112.5,115.2 113.0,115.1 113.5,115.3 114.0,115.0 114.5,115.4 115.0,115.2 115.5,115.3 116.0,115.2 116.5,115.1 117.0,115.1 117.5,115.2 118.0,115.1 118.5,115.0 119.0,115.0 119.5,115.0 120.0,115.1 120.5,115.1 121.0,115.4 121.5,115.4 122.0,115.4 122.5,115.2 123.0,115.2 123.5,115.5 124.0,115.3 124.5,115.0 125.0,115.1 125.5,115.1 126.0,115.0 126.5,115.0 127.0,115.5 127.5,115.3 128.0,115.4 128.5,115.4 129.0,114.2 129.5,115.0 130.0,115.2 130.5,114.2 131.0,113.4 131.5,114.2 132.0,115.1 132.5,113.7 133.0,111.4 133.5,113.8 134.0,115.1 134.5,113.4 135.0,111.6 135.5,113.7 136.0,115.4 136.5,115.4 137.0,115.4 137.5,110.1 138.0,114.4 138.5,115.2 139.0,115.3 139.5,113.1 140.0,111.6 140.5,115.1 141.0,114.0 141.5,115.5 142.0,115.0 142.5,115.4 143.0,115.2 143.5,115.2 144.0,115.5 144.5,115.4 145.0,115.3 145.5,115.1 146.0,115.0 146.5,115.5 147.0,114.0 147.5,115.4 148.0,114.1 148.5,115.3 149.0,115.5 149.5,115.4 150.0,115.5 150.5,115.2 151.0,115.4 151.5,115.3 152.0,115.0 152.5,115.1 153.0,115.3 153.5,115.4 154.0,115.1 154.5,115.0 155.0,115.3 155.5,115.3 156.0,115.1 156.5,115.1 157.0,115.3 157.5,114.0 158.0,115.1 158.5,115.1 159.0,115.3 159.5,115.3 160.0,115.1 160.5,115.1 161.0,115.1 161.5,115.2 162.0,115.4 162.5,115.1 163.0,115.4 163.5,115.1 164.0,115.5 164.5,115.2 165.0,115.1 165.5,115.4 166.0,115.1 166.5,115.4 167.0,115.5 167.5,114.3 168.0,115.2 168.5,114.8 169.0,114.8 169.5,114.9 170.0,115.1 170.5,114.9 171.0,112.5 171.5,111.8 172.0,114.8 172.5,113.1 173.0,115.0 173.5,113.9 174.0,112.8 174.5,113.6 175.0,114.7 175.5,115.0 176.0,115.3 176.5,115.4 177.0,115.0 177.5,114.7 178.0,115.4 178.5,114.9 179.0,114.8 179.5,115.2 180.0,114.8 180.5,115.1 181.0,114.9 181.5,115.4 182.0,115.1 182.5,115.6 183.0,115.0 183.5,114.4 184.0,110.2 184.5,114.2 185.0,115.0 185.5,112.7 186.0,113.5 186.5,115.5 187.0,114.8 187.5,115.4 188.0,115.2 188.5,114.4 189.0,109.4 189.5,114.4 190.0,114.8 190.5,115.2 191.0,115.5 191.5,115.0 192.0,115.3 192.5,115.0 193.0,114.9 193.5,114.9 194.0,115.1 194.5,115.2 195.0,115.0 195.5,114.2 196.0,111.4 196.5,114.0 197.0,115.3 197.5,113.4 198.0,111.3 198.5,113.8 199.0,115.2 199.5,113.0 200.0,112.5 200.5,114.9 201.0,114.1 201.5,111.1 202.0,113.1 202.5,114.9 203.0,115.5 203.5,115.0 204.0,115.1 204.5,114.8 205.0,115.0 205.5,115.5 206.0,115.1 206.5,115.5 207.0,115.0 207.5,115.4 208.0,115.0 208.5,114.8 209.0,115.4 209.5,110.1 210.0,113.6 210.5,113.3 211.0,115.5 211.5,115.1 212.0,115.1 212.5,113.8 213.0,112.6 213.5,114.3 214.0,114.9 214.5,115.6 215.0,115.0 215.5,115.2 216.0,114.8 216.5,115.2 217.0,114.9 217.5,114.7 218.0,114.9 218.5,115.4 219.0,115.3 219.5,114.8 220.0,114.9 220.5,115.1 221.0,115.5 221.5,115.3 222.0,115.2 222.5,114.9 223.0,115.1 223.5,115.0 224.0,114.8 224.5,115.2 225.0,114.9 225.5,115.2 226.0,115.4 226.5,112.7 227.0,114.9 227.5,115.2 228.0,115.5 228.5,114.8 229.0,111.7 229.5,110.6 230.0,115.4 230.5,115.4 231.0,115.2 231.5,115.1 232.0,114.8 232.5,115.0 233.0,113.7 233.5,107.6 234.0,113.6 234.5,115.3 235.0,114.7 235.5,114.9 236.0,115.4 236.5,115.1 237.0,115.0 237.5,115.4 238.0,114.7 238.5,115.0 239.0,115.0 239.5,115.3 240.0,110.0 240.5,111.2 241.0,115.0 241.5,114.9 242.0,115.2 242.5,113.7 243.0,115.3 243.5,114.8 244.0,114.7 244.5,109.2 245.0,112.8 245.5,115.5 246.0,115.0 246.5,115.3 247.0,115.4 247.5,114.7 248.0,114.7 248.5,115.4 249.0,115.4 249.5,115.3 250.0,114.7 250.5,114.9 251.0,114.8 251.5,114.7 252.0,115.3 252.5,114.8 253.0,115.0 253.5,113.9 254.0,115.2 254.5,113.1 255.0,112.8 255.5,114.8 256.0,114.7 256.5,113.7 257.0,112.9 257.5,114.4 258.0,115.2 258.5,115.2 259.0,115.2 259.5,115.1 260.0,115.3 260.5,115.3 261.0,115.0 261.5,114.8 262.0,115.3 262.5,113.9 263.0,113.4 263.5,114.2 264.0,114.6 264.5,114.9 265.0,114.8 265.5,115.3 266.0,114.6 266.5,115.0 267.0,115.0 267.5,113.8 268.0,113.1 268.5,114.0 269.0,112.7 269.5,115.3 270.0,114.9 270.5,114.8 271.0,115.2 271.5,115.4 272.0,114.7 272.5,113.9 273.0,113.1 273.5,114.6 274.0,114.6 274.5,114.7 275.0,114.6 275.5,114.9 276.0,115.0 276.5,114.9 277.0,115.1 277.5,115.0 278.0,114.9 278.5,114.8 279.0,115.2 279.5,115.1 280.0,114.8 280.5,114.8 281.0,115.1 281.5,114.7 282.0,115.2 282.5,114.8 283.0,113.7 283.5,114.6 284.0,114.6 284.5,114.3 285.0,110.3 285.5,114.4 286.0,114.6 286.5,115.0 287.0,112.0 287.5,113.2 288.0,115.1 288.5,115.0 289.0,115.0 289.5,115.0 290.0,113.6 290.5,115.3 291.0,115.1 291.5,113.3 292.0,115.1 292.5,111.8 293.0,113.7 293.5,115.1 294.0,114.9 294.5,115.1 295.0,114.6 295.5,115.1 296.0,114.8 296.5,114.7 297.0,114.7 297.5,115.3 298.0,114.8 298.5,112.9 299.0,113.7 299.5,114.9 300.0,115.1 300.5,115.2 301.0,115.1 301.5,115.0 302.0,115.2 302.5,115.1 303.0,114.8 303.5,115.0 304.0,115.2 304.5,115.2 305.0,112.9 305.5,113.4 306.0,115.0 306.5,114.9 307.0,115.0 307.5,114.9 308.0,114.1 308.5,114.8 309.0,114.9 309.5,114.1 310.0,110.4 310.5,114.3 311.0,114.8 311.5,114.8 312.0,114.8 312.5,114.7 313.0,114.8 313.5,114.7 314.0,114.6 314.5,115.0 315.0,114.6 315.5,114.9 316.0,114.6 316.5,114.6 317.0,114.7 317.5,114.9 318.0,114.9 318.5,114.9 319.0,114.8 319.5,114.5 320.0,114.5 320.5,114.8 321.0,114.6 321.5,113.6 322.0,112.7 322.5,113.7 323.0,114.8 323.5,114.5 324.0,114.5 324.5,114.7 325.0,114.6 325.5,114.5 326.0,114.6 326.5,114.4 327.0,114.5 327.5,113.6 328.0,112.9 328.5,113.5 329.0,114.4 329.5,114.4 330.0,114.7 330.5,114.3 331.0,114.4 331.5,114.5 332.0,114.3 332.5,114.3 333.0,114.6 333.5,114.5 334.0,114.4 334.5,114.3 335.0,114.3 335.5,111.5 336.0,110.5 336.5,112.8 337.0,114.4 337.5,111.2 338.0,109.7 338.5,113.8 339.0,113.3 339.5,110.5 340.0,112.1 340.5,114.3 341.0,112.4 341.5,109.3 342.0,112.4 342.5,114.0 343.0,112.8 343.5,109.9 344.0,112.8 344.5,114.1 345.0,113.9 345.5,113.2 346.0,111.5 346.5,113.1 347.0,113.9 347.5,113.9 348.0,114.0 348.5,113.3 349.0,109.6 349.5,113.3 350.0,113.1 350.5,109.2 351.0,114.0 351.5,114.1 352.0,114.2 352.5,112.8 353.0,114.2 353.5,114.1 354.0,114.1 354.5,109.4 355.0,112.9 355.5,114.1 356.0,108.1 356.5,114.1 357.0,114.1 357.5,112.4 358.0,111.7 358.5,114.2 359.0,114.1 359.5,114.2 360.0,114.1 360.5,113.6 361.0,111.7 361.5,113.8 362.0,114.0 362.5,114.0 363.0,112.8 363.5,113.8 364.0,113.8 364.5,113.9 365.0,110.9 365.5,109.3 366.0,114.0 366.5,114.1 367.0,114.1 367.5,113.9 368.0,114.0 368.5,113.2 369.0,110.7 369.5,113.4 370.0,113.9 370.5,114.1 371.0,114.0 371.5,113.9 372.0,113.8 372.5,113.4 373.0,111.6 373.5,113.5 374.0,113.8 374.5,113.9 375.0,113.7 375.5,113.7 376.0,114.0 376.5,113.2 377.0,111.0 377.5,113.5 378.0,113.7 378.5,114.0 379.0,114.0 379.5,114.0 380.0,112.7 380.5,109.8 381.0,114.1 381.5,114.1 382.0,114.1 382.5,113.4 383.0,113.8 383.5,113.9 384.0,113.6 384.5,111.4 385.0,108.6 385.5,114.0 386.0,113.9 386.5,113.3 387.0,110.8 387.5,113.3 388.0,113.9 388.5,113.7 389.0,113.7 389.5,109.0 390.0,112.7 390.5,113.7 391.0,113.6 391.5,113.8 392.0,113.6 392.5,113.7 393.0,110.4 393.5,114.0 394.0,113.6 394.5,113.7 395.0,111.4 395.5,113.7 396.0,113.7 396.5,113.2 396.5,114.7 396.0,114.7 395.5,114.7 395.0,114.8 394.5,114.7 394.0,114.9 393.5,114.8 393.0,114.8 392.5,114.9 392.0,114.9 391.5,114.9 391.0,114.7 390.5,114.9 390.0,114.8 389.5,114.9 389.0,114.9 388.5,114.9 388.0,114.8 387.5,114.9 387.0,114.9 386.5,114.9 386.0,114.9 385.5,114.8 385.0,114.9 384.5,114.9 384.0,114.8 383.5,114.8 383.0,114.8 382.5,114.9 382.0,114.8 381.5,114.8 381.0,114.8 380.5,114.8 380.0,115.0 379.5,114.8 379.0,114.8 378.5,114.9 378.0,114.9 377.5,115.0 377.0,114.9 376.5,115.0 376.0,114.9 375.5,115.0 375.0,115.0 374.5,114.8 374.0,114.9 373.5,115.0 373.0,114.9 372.5,114.8 372.0,114.9 371.5,114.8 371.0,114.8 370.5,114.8 370.0,114.9 369.5,115.1 369.0,115.0 368.5,115.1 368.0,114.9 367.5,114.9 367.0,115.0 366.5,114.9 366.0,115.0 365.5,115.0 365.0,114.9 364.5,115.0 364.0,114.9 363.5,115.0 363.0,114.9 362.5,114.9 362.0,115.1 361.5,114.9 361.0,114.9 360.5,115.0 360.0,114.9 359.5,114.9 359.0,115.0 358.5,115.1 358.0,115.0 357.5,115.1 357.0,115.0 356.5,115.1 356.0,115.1 355.5,115.0 355.0,115.1 354.5,115.1 354.0,115.0 353.5,115.0 353.0,115.0 352.5,115.0 352.0,114.9 351.5,115.1 351.0,115.1 350.5,115.0 350.0,115.0 349.5,115.1 349.0,115.0 348.5,115.0 348.0,115.1 347.5,114.9 347.0,115.0 346.5,115.1 346.0,115.1 345.5,115.0 345.0,115.0 344.5,115.2 344.0,115.1 343.5,115.1 343.0,115.1 342.5,115.1 342.0,115.2 341.5,115.0 341.0,115.2 340.5,115.2 340.0,115.2 339.5,115.1 339.0,115.3 338.5,115.3 338.0,115.3 337.5,115.2 337.0,115.2 336.5,115.4 336.0,115.3 335.5,115.3 335.0,115.3 334.5,115.3 334.0,115.3 333.5,115.5 333.0,115.4 332.5,115.3 332.0,115.4 331.5,115.5 331.0,115.5 330.5,115.5 330.0,115.4 329.5,115.5 329.0,115.5 328.5,115.4 328.0,115.5 327.5,115.6 327.0,115.6 326.5,115.5 326.0,115.5 325.5,115.7 325.0,115.5 324.5,115.6 324.0,115.5 323.5,115.5 323.0,115.6 322.5,115.6 322.0,115.7 321.5,115.7 321.0,115.6 320.5,115.7 320.0,115.7 319.5,115.8 319.0,115.6 318.5,115.6 318.0,115.6 317.5,115.7 317.0,115.8 316.5,115.8 316.0,115.6 315.5,115.7 315.0,115.8 314.5,115.7 314.0,115.8 313.5,115.8 313.0,115.8 312.5,115.8 312.0,115.9 311.5,115.8 311.0,115.9 310.5,115.8 310.0,115.9 309.5,115.8 309.0,115.8 308.5,115.9 308.0,116.0 307.5,115.9 307.0,116.0 306.5,115.9 306.0,115.9 305.5,116.1 305.0,116.1 304.5,116.0 304.0,116.0 303.5,116.0 303.0,116.0 302.5,116.0 302.0,116.0 301.5,116.2 301.0,116.0 300.5,116.0 300.0,116.0 299.5,116.0 299.0,116.1 298.5,116.2 298.0,116.2 297.5,116.0 297.0,116.2 296.5,116.0 296.0,116.0 295.5,116.0 295.0,116.2 294.5,116.1 294.0,116.0 293.5,116.1 293.0,116.0 292.5,116.1 292.0,116.2 291.5,116.1 291.0,116.1 290.5,116.2 290.0,116.1 289.5,116.1 289.0,116.2 288.5,116.2 288.0,116.2 287.5,116.2 287.0,116.0 286.5,116.1 286.0,116.2 285.5,116.2 285.0,116.1 284.5,116.2 284.0,116.1 283.5,116.2 283.0,116.0 282.5,116.2 282.0,116.2 281.5,116.1 281.0,116.1 280.5,116.1 280.0,116.1 279.5,116.1 279.0,116.1 278.5,116.1 278.0,116.2 277.5,116.1 277.0,116.1 276.5,116.1 276.0,116.1 275.5,116.2 275.0,116.3 274.5,116.2 274.0,116.3 273.5,116.2 273.0,116.0 272.5,116.1 272.0,116.1 271.5,116.2 271.0,116.1 270.5,116.2 270.0,116.1 269.5,116.1 269.0,116.2 268.5,116.2 268.0,116.1 267.5,116.2 267.0,116.1 266.5,116.2 266.0,116.2 265.5,116.3 265.0,116.1 264.5,116.2 264.0,116.1 263.5,116.2 263.0,116.2 262.5,116.3 262.0,116.2 261.5,116.2 261.0,116.1 260.5,116.1 260.0,116.2 259.5,116.1 259.0,116.2 258.5,116.2 258.0,116.3 257.5,116.2 257.0,116.2 256.5,116.1 256.0,116.2 255.5,116.3 255.0,116.2 254.5,116.1 254.0,116.1 253.5,116.2 253.0,116.2 252.5,116.2 252.0,116.2 251.5,116.1 251.0,116.2 250.5,116.1 250.0,116.3 249.5,116.3 249.0,116.2 248.5,116.3 248.0,116.3 247.5,116.2 247.0,116.2 246.5,116.3 246.0,116.1 245.5,116.3 245.0,116.3 244.5,116.2 244.0,116.3 243.5,116.3 243.0,116.2 242.5,116.3 242.0,116.2 241.5,116.3 241.0,116.3 240.5,116.4 240.0,116.4 239.5,116.2 239.0,116.1 238.5,116.2 238.0,116.2 237.5,116.2 237.0,116.3 236.5,116.2 236.0,116.3 235.5,116.2 235.0,116.2 234.5,116.4 234.0,116.3 233.5,116.4 233.0,116.4 232.5,116.3 232.0,116.4 231.5,116.2 231.0,116.4 230.5,116.3 230.0,116.4 229.5,116.4 229.0,116.3 228.5,116.2 228.0,116.2 227.5,116.4 227.0,116.3 226.5,116.3 226.0,116.2 225.5,116.3 225.0,116.4 224.5,116.4 224.0,116.4 223.5,116.3 223.0,116.2 222.5,116.2 222.0,116.2 221.5,116.4 221.0,116.2 220.5,116.4 220.0,116.4 219.5,116.2 219.0,116.2 218.5,116.3 218.0,116.3 217.5,116.3 217.0,116.4 216.5,116.4 216.0,116.3 215.5,116.4 215.0,116.4 214.5,116.3 214.0,116.3 213.5,116.2 213.0,116.3 212.5,116.4 212.0,116.3 211.5,116.4 211.0,116.4 210.5,116.4 210.0,116.3 209.5,116.3 209.0,116.5 208.5,116.3 208.0,116.3 207.5,116.4 207.0,116.3 206.5,116.2 206.0,116.2 205.5,116.4 205.0,116.3 204.5,116.3 204.0,116.3 203.5,116.5 203.0,116.4 202.5,116.3 202.0,116.3 201.5,116.3 201.0,116.3 200.5,116.3 200.0,116.3 199.5,116.3 199.0,116.4 198.5,116.3 198.0,116.4 197.5,116.3 197.0,116.3 196.5,116.4 196.0,116.4 195.5,116.5 195.0,116.5 194.5,116.4 194.0,116.3 193.5,116.3 193.0,116.2 192.5,116.3 192.0,116.3 191.5,116.3 191.0,116.3 190.5,116.4 190.0,116.5 189.5,116.3 189.0,116.4 188.5,116.3 188.0,116.3 187.5,116.3 187.0,116.4 186.5,116.4 186.0,116.4 185.5,116.3 185.0,116.4 184.5,116.4 184.0,116.4 183.5,116.4 183.0,116.3 182.5,116.4 182.0,116.2 181.5,116.3 181.0,116.4 180.5,116.4 180.0,116.4 179.5,116.4 179.0,116.2 178.5,116.3 178.0,116.4 177.5,116.4 177.0,116.4 176.5,116.3 176.0,116.4 175.5,116.3 175.0,116.3 174.5,116.4 174.0,116.4 173.5,116.4 173.0,116.2 172.5,116.3 172.0,116.2 171.5,116.3 171.0,116.4 170.5,116.3 170.0,116.3 169.5,116.4 169.0,116.4 168.5,116.4 168.0,116.4 167.5,116.2 167.0,116.3 166.5,116.3 166.0,116.3 165.5,116.4 165.0,116.3 164.5,116.2 164.0,116.4 163.5,116.4 163.0,116.3 162.5,116.3 162.0,116.3 161.5,116.4 161.0,116.4 160.5,116.2 160.0,116.3 159.5,116.2 159.0,116.3 158.5,116.2 158.0,116.3 157.5,116.3 157.0,116.4 156.5,116.2 156.0,116.2 155.5,116.2 155.0,116.2 154.5,116.4 154.0,116.2 153.5,116.3 153.0,116.3 152.5,116.4 152.0,116.2 151.5,116.2 151.0,116.3 150.5,116.2 150.0,116.2 149.5,116.2 149.0,116.2 148.5,116.3 148.0,116.4 147.5,116.3 147.0,116.4 146.5,116.3 146.0,116.3 145.5,116.3 145.0,116.3 144.5,116.2 144.0,116.3 143.5,116.2 143.0,116.3 142.5,116.3 142.0,116.3 141.5,116.2 141.0,116.2 140.5,116.2 140.0,116.4 139.5,116.3 139.0,116.2 138.5,116.2 138.0,116.3 137.5,116.2 137.0,116.3 136.5,116.2 136.0,116.3 135.5,116.3 135.0,116.2 134.5,116.3 134.0,116.2 133.5,116.2 133.0,116.3 132.5,116.4 132.0,116.2 131.5,116.2 131.0,116.2 130.5,116.1 130.0,116.2 129.5,116.2 129.0,116.4 128.5,116.3 128.0,116.1 127.5,116.1 127.0,116.3 126.5,116.2 126.0,116.3 125.5,116.2 125.0,116.2 124.5,116.3 124.0,116.3 123.5,116.2 123.0,116.2 122.5,116.3 122.0,116.4 121.5,116.2 121.0,116.1 120.5,116.2 120.0,116.3 119.5,116.2 119.0,116.2 118.5,116.2 118.0,116.3 117.5,116.3 117.0,116.1 116.5,116.2 116.0,116.1 115.5,116.2 115.0,116.3 114.5,116.3 114.0,116.3 113.5,116.2 113.0,116.1 112.5,116.3 112.0,116.2 111.5,116.2 111.0,116.1 110.5,116.3 110.0,116.3 109.5,116.2 109.0,116.1 108.5,116.3 108.0,116.1 107.5,116.1 107.0,116.3 106.5,116.2 106.0,116.3 105.5,116.1 105.0,116.2 104.5,116.1 104.0,116.1 103.5,116.2 103.0,116.3 102.5,116.1 102.0,116.3 101.5,116.2 101.0,116.1 100.5,116.1 100.0,116.2 99.5,116.3 99.0,116.3 98.5,116.1 98.0,116.2 97.5,116.3 97.0,116.2 96.5,116.2 96.0,116.2 95.5,116.2 95.0,116.3 94.5,116.1 94.0,116.3 93.5,116.2 93.0,116.3 92.5,116.2 92.0,116.1 91.5,116.2 91.0,116.1 90.5,116.1 90.0,116.1 89.5,116.1 89.0,116.1 88.5,116.1 88.0,116.2 87.5,116.1 87.0,116.2 86.5,116.3 86.0,116.2 85.5,116.3 85.0,116.1 84.5,116.3 84.0,116.2 83.5,116.3 83.0,116.1" fill="#111"/>
<polygon points="164.7,115.5 164.9,102 165.6,102.5 166.2,104.5 166.8,106 167.3,108.5 167.6,115.5" fill="#666"/>
<polygon points="164.5,115.5 164.9,102 165.6,115.5" fill="#333"/>
<rect x="401.3" y="109.4" width="1.1" height="6.8" fill="#444"/>
<text x="406.5" y="118.4" font-size="10.1" text-anchor="start" >20 mmHg</text>
<rect x="346.5" y="123.5" width="49.6" height="1.4" fill="#111"/>
<text x="365.3" y="134.6" font-size="9.8" text-anchor="start" >10 min</text>
<text x="19.1" y="178.6" font-size="13.4" text-anchor="start" >B</text>
<line x1="118.2" y1="179.7" x2="147.6" y2="179.7" stroke="#000" stroke-width="2.3" stroke-dasharray="1.9 1.04"/>
<text x="152.9" y="182.7" font-size="13.4" text-anchor="start" >vehicle (i.c.v., n=7)</text>
<line x1="118.2" y1="195.4" x2="148.2" y2="195.4" stroke="#000" stroke-width="1.8"/>
<text x="152.9" y="199.9" font-size="13.66" text-anchor="start" >ODT8-SST (0.75 nmol, i.c.v., n=7)</text>
<line x1="104.5" y1="196.5" x2="104.5" y2="343.59999999999997" stroke="#555" stroke-width="1.2"/>
<line x1="104.5" y1="339.9" x2="358.08" y2="339.9" stroke="#555" stroke-width="1.2"/>
<line x1="100.5" y1="339.9" x2="104.5" y2="339.9" stroke="#555" stroke-width="1"/>
<text x="92.8" y="344.7" font-size="13.4" text-anchor="end" >0</text>
<line x1="100.5" y1="311.2" x2="104.5" y2="311.2" stroke="#555" stroke-width="1"/>
<text x="92.8" y="316.02" font-size="13.4" text-anchor="end" >50</text>
<line x1="100.5" y1="282.5" x2="104.5" y2="282.5" stroke="#555" stroke-width="1"/>
<text x="92.8" y="287.34" font-size="13.4" text-anchor="end" >100</text>
<line x1="100.5" y1="253.9" x2="104.5" y2="253.9" stroke="#555" stroke-width="1"/>
<text x="92.8" y="258.65999999999997" font-size="13.4" text-anchor="end" >150</text>
<line x1="100.5" y1="225.2" x2="104.5" y2="225.2" stroke="#555" stroke-width="1"/>
<text x="92.8" y="229.98" font-size="13.4" text-anchor="end" >200</text>
<line x1="100.5" y1="196.5" x2="104.5" y2="196.5" stroke="#555" stroke-width="1"/>
<text x="92.8" y="201.29999999999998" font-size="13.4" text-anchor="end" >250</text>
<line x1="104.50" y1="339.9" x2="104.50" y2="343.7" stroke="#444" stroke-width="1.2"/>
<text x="104.8" y="363.8" font-size="13.8" text-anchor="middle" >0</text>
<line x1="188.86" y1="339.9" x2="188.86" y2="343.7" stroke="#444" stroke-width="1.2"/>
<text x="189.16" y="363.8" font-size="13.8" text-anchor="middle" >20</text>
<line x1="273.22" y1="339.9" x2="273.22" y2="343.7" stroke="#444" stroke-width="1.2"/>
<text x="273.52" y="363.8" font-size="13.8" text-anchor="middle" >40</text>
<line x1="357.58" y1="339.9" x2="357.58" y2="343.7" stroke="#444" stroke-width="1.2"/>
<text x="357.88" y="363.8" font-size="13.8" text-anchor="middle" >60</text>
<text x="377.2" y="363.8" font-size="13.4" text-anchor="start" >Time (min)</text>
<text transform="translate(50,275.5) rotate(-90)" font-size="13.5" text-anchor="middle">Mean motility index (pAUC)</text>
<text transform="translate(66.3,275.3) rotate(-90)" font-size="13.6" text-anchor="middle">(mmHg x min)</text>
<polyline points="104.50,271.6 108.72,267.1 112.94,264.1 117.15,264.1 121.37,266.5 125.59,268.1 129.81,271.4 134.03,271.0 138.24,269.6 142.46,260.6 146.68,256.3 150.90,256.9 155.12,261.8 159.33,263.7 163.55,266.5 167.77,261.2 171.99,256.9 176.21,254.0 180.42,242.8 184.64,234.5 188.86,243.3 193.08,247.4 197.30,231.7 201.51,247.0 205.73,255.2 209.95,258.2 214.17,250.3 218.39,271.3 222.60,256.8 226.82,247.4 231.04,232.7 235.26,235.3 239.48,230.8 243.69,235.7 247.91,243.5 252.13,256.8 256.35,255.8 260.57,256.2 264.78,256.2 269.00,249.4 273.22,245.3 277.44,251.2 281.66,247.9 285.87,254.1 290.09,254.1 294.31,247.3 298.53,240.4 302.75,232.6 306.96,224.8 311.18,230.7 315.40,240.4 319.62,246.9 323.84,251.8 328.05,258.4 332.27,255.1 336.49,257.1 340.71,250.2 344.93,262.0 349.14,247.3 353.36,251.2 357.58,236.5" fill="none" stroke="#000" stroke-width="2.2" stroke-dasharray="2.1 2.1"/>
<path d="M104.50,269.9V273.3M102.50,269.9H106.50M102.50,273.3H106.50" stroke="#000" stroke-width="1.6" fill="none"/>
<path d="M108.72,265.4V268.8M106.72,265.4H110.72M106.72,268.8H110.72" stroke="#000" stroke-width="1.6" fill="none"/>
<path d="M112.94,262.4V265.8M110.94,262.4H114.94M110.94,265.8H114.94" stroke="#000" stroke-width="1.6" fill="none"/>
<path d="M117.15,262.4V265.8M115.15,262.4H119.15M115.15,265.8H119.15" stroke="#000" stroke-width="1.6" fill="none"/>
<path d="M121.37,264.8V268.2M119.37,264.8H123.37M119.37,268.2H123.37" stroke="#000" stroke-width="1.6" fill="none"/>
<path d="M125.59,266.4V269.8M123.59,266.4H127.59M123.59,269.8H127.59" stroke="#000" stroke-width="1.6" fill="none"/>
<path d="M129.81,269.7V273.1M127.81,269.7H131.81M127.81,273.1H131.81" stroke="#000" stroke-width="1.6" fill="none"/>
<path d="M134.03,269.3V272.7M132.03,269.3H136.03M132.03,272.7H136.03" stroke="#000" stroke-width="1.6" fill="none"/>
<path d="M138.24,267.9V271.3M136.24,267.9H140.24M136.24,271.3H140.24" stroke="#000" stroke-width="1.6" fill="none"/>
<path d="M142.46,258.9V262.3M140.46,258.9H144.46M140.46,262.3H144.46" stroke="#000" stroke-width="1.6" fill="none"/>
<path d="M146.68,254.6V258.0M144.68,254.6H148.68M144.68,258.0H148.68" stroke="#000" stroke-width="1.6" fill="none"/>
<path d="M150.90,255.2V258.6M148.90,255.2H152.90M148.90,258.6H152.90" stroke="#000" stroke-width="1.6" fill="none"/>
<path d="M155.12,260.1V263.5M153.12,260.1H157.12M153.12,263.5H157.12" stroke="#000" stroke-width="1.6" fill="none"/>
<path d="M159.33,262.0V265.4M157.33,262.0H161.33M157.33,265.4H161.33" stroke="#000" stroke-width="1.6" fill="none"/>
<path d="M163.55,264.8V268.2M161.55,264.8H165.55M161.55,268.2H165.55" stroke="#000" stroke-width="1.6" fill="none"/>
<path d="M167.77,259.5V262.9M165.77,259.5H169.77M165.77,262.9H169.77" stroke="#000" stroke-width="1.6" fill="none"/>
<path d="M171.99,255.2V258.6M169.99,255.2H173.99M169.99,258.6H173.99" stroke="#000" stroke-width="1.6" fill="none"/>
<path d="M176.21,252.3V255.7M174.21,252.3H178.21M174.21,255.7H178.21" stroke="#000" stroke-width="1.6" fill="none"/>
<path d="M180.42,241.1V244.5M178.42,241.1H182.42M178.42,244.5H182.42" stroke="#000" stroke-width="1.6" fill="none"/>
<path d="M184.64,232.3V236.7M182.64,232.3H186.64M182.64,236.7H186.64" stroke="#000" stroke-width="1.6" fill="none"/>
<path d="M188.86,241.6V245.0M186.86,241.6H190.86M186.86,245.0H190.86" stroke="#000" stroke-width="1.6" fill="none"/>
<path d="M193.08,245.7V249.1M191.08,245.7H195.08M191.08,249.1H195.08" stroke="#000" stroke-width="1.6" fill="none"/>
<path d="M197.30,228.4V235.0M195.30,228.4H199.30M195.30,235.0H199.30" stroke="#000" stroke-width="1.6" fill="none"/>
<path d="M201.51,245.3V248.7M199.51,245.3H203.51M199.51,248.7H203.51" stroke="#000" stroke-width="1.6" fill="none"/>
<path d="M205.73,253.5V256.9M203.73,253.5H207.73M203.73,256.9H207.73" stroke="#000" stroke-width="1.6" fill="none"/>
<path d="M209.95,256.5V259.9M207.95,256.5H211.95M207.95,259.9H211.95" stroke="#000" stroke-width="1.6" fill="none"/>
<path d="M214.17,247.5V253.1M212.17,247.5H216.17M212.17,253.1H216.17" stroke="#000" stroke-width="1.6" fill="none"/>
<path d="M218.39,268.7V273.9M216.39,268.7H220.39M216.39,273.9H220.39" stroke="#000" stroke-width="1.6" fill="none"/>
<path d="M222.60,255.1V258.5M220.60,255.1H224.60M220.60,258.5H224.60" stroke="#000" stroke-width="1.6" fill="none"/>
<path d="M226.82,245.7V249.1M224.82,245.7H228.82M224.82,249.1H228.82" stroke="#000" stroke-width="1.6" fill="none"/>
<path d="M231.04,231.0V234.4M229.04,231.0H233.04M229.04,234.4H233.04" stroke="#000" stroke-width="1.6" fill="none"/>
<path d="M235.26,233.6V237.0M233.26,233.6H237.26M233.26,237.0H237.26" stroke="#000" stroke-width="1.6" fill="none"/>
<path d="M239.48,228.6V233.0M237.48,228.6H241.48M237.48,233.0H241.48" stroke="#000" stroke-width="1.6" fill="none"/>
<path d="M243.69,234.0V237.4M241.69,234.0H245.69M241.69,237.4H245.69" stroke="#000" stroke-width="1.6" fill="none"/>
<path d="M247.91,241.8V245.2M245.91,241.8H249.91M245.91,245.2H249.91" stroke="#000" stroke-width="1.6" fill="none"/>
<path d="M252.13,255.1V258.5M250.13,255.1H254.13M250.13,258.5H254.13" stroke="#000" stroke-width="1.6" fill="none"/>
<path d="M256.35,254.1V257.5M254.35,254.1H258.35M254.35,257.5H258.35" stroke="#000" stroke-width="1.6" fill="none"/>
<path d="M260.57,254.5V257.9M258.57,254.5H262.57M258.57,257.9H262.57" stroke="#000" stroke-width="1.6" fill="none"/>
<path d="M264.78,254.5V257.9M262.78,254.5H266.78M262.78,257.9H266.78" stroke="#000" stroke-width="1.6" fill="none"/>
<path d="M269.00,247.7V251.1M267.00,247.7H271.00M267.00,251.1H271.00" stroke="#000" stroke-width="1.6" fill="none"/>
<path d="M273.22,243.6V247.0M271.22,243.6H275.22M271.22,247.0H275.22" stroke="#000" stroke-width="1.6" fill="none"/>
<path d="M277.44,249.5V252.9M275.44,249.5H279.44M275.44,252.9H279.44" stroke="#000" stroke-width="1.6" fill="none"/>
<path d="M281.66,246.2V249.6M279.66,246.2H283.66M279.66,249.6H283.66" stroke="#000" stroke-width="1.6" fill="none"/>
<path d="M285.87,252.4V255.8M283.87,252.4H287.87M283.87,255.8H287.87" stroke="#000" stroke-width="1.6" fill="none"/>
<path d="M290.09,252.4V255.8M288.09,252.4H292.09M288.09,255.8H292.09" stroke="#000" stroke-width="1.6" fill="none"/>
<path d="M294.31,245.6V249.0M292.31,245.6H296.31M292.31,249.0H296.31" stroke="#000" stroke-width="1.6" fill="none"/>
<path d="M298.53,238.7V242.1M296.53,238.7H300.53M296.53,242.1H300.53" stroke="#000" stroke-width="1.6" fill="none"/>
<path d="M302.75,230.9V234.3M300.75,230.9H304.75M300.75,234.3H304.75" stroke="#000" stroke-width="1.6" fill="none"/>
<path d="M306.96,222.6V227.0M304.96,222.6H308.96M304.96,227.0H308.96" stroke="#000" stroke-width="1.6" fill="none"/>
<path d="M311.18,229.0V232.4M309.18,229.0H313.18M309.18,232.4H313.18" stroke="#000" stroke-width="1.6" fill="none"/>
<path d="M315.40,238.7V242.1M313.40,238.7H317.40M313.40,242.1H317.40" stroke="#000" stroke-width="1.6" fill="none"/>
<path d="M319.62,245.2V248.6M317.62,245.2H321.62M317.62,248.6H321.62" stroke="#000" stroke-width="1.6" fill="none"/>
<path d="M323.84,250.1V253.5M321.84,250.1H325.84M321.84,253.5H325.84" stroke="#000" stroke-width="1.6" fill="none"/>
<path d="M328.05,256.7V260.1M326.05,256.7H330.05M326.05,260.1H330.05" stroke="#000" stroke-width="1.6" fill="none"/>
<path d="M332.27,253.4V256.8M330.27,253.4H334.27M330.27,256.8H334.27" stroke="#000" stroke-width="1.6" fill="none"/>
<path d="M336.49,255.4V258.8M334.49,255.4H338.49M334.49,258.8H338.49" stroke="#000" stroke-width="1.6" fill="none"/>
<path d="M340.71,248.5V251.9M338.71,248.5H342.71M338.71,251.9H342.71" stroke="#000" stroke-width="1.6" fill="none"/>
<path d="M344.93,259.6V264.4M342.93,259.6H346.93M342.93,264.4H346.93" stroke="#000" stroke-width="1.6" fill="none"/>
<path d="M349.14,245.6V249.0M347.14,245.6H351.14M347.14,249.0H351.14" stroke="#000" stroke-width="1.6" fill="none"/>
<path d="M353.36,249.5V252.9M351.36,249.5H355.36M351.36,252.9H355.36" stroke="#000" stroke-width="1.6" fill="none"/>
<path d="M357.58,231.9V241.1M355.58,231.9H359.58M355.58,241.1H359.58" stroke="#000" stroke-width="1.6" fill="none"/>
<polyline points="104.50,289.8 108.72,292.7 112.94,296.0 117.15,302.5 121.37,305.8 125.59,308.0 129.81,310.3 134.03,307.4 138.24,298.6 142.46,297.2 146.68,296.6 150.90,294.7 155.12,288.8 159.33,301.5 163.55,303.5 167.77,301.5 171.99,297.6 176.21,305.8 180.42,305.0 184.64,303.9 188.86,306.9 193.08,310.7 197.30,299.6 201.51,301.1 205.73,301.1 209.95,292.7 214.17,290.8 218.39,303.1 222.60,300.5 226.82,301.5 231.04,311.3 235.26,315.2 239.48,316.8 243.69,319.7 247.91,318.2 252.13,316.2 256.35,315.2 260.57,315.6 264.78,316.2 269.00,316.8 273.22,315.8 277.44,311.7 281.66,307.0 285.87,305.0 290.09,305.0 294.31,303.1 298.53,295.7 302.75,296.0 306.96,298.0 311.18,294.1 315.40,294.7 319.62,298.0 323.84,294.1 328.05,292.7 332.27,293.7 336.49,291.4 340.71,296.6 344.93,300.5 349.14,299.6 353.36,299.2 357.58,303.1" fill="none" stroke="#000" stroke-width="3.1" stroke-linejoin="round"/>
<path d="M102.90,288.5H106.10M102.90,291.1H106.10" stroke="#000" stroke-width="0.9" fill="none"/>
<path d="M107.12,291.4H110.32M107.12,294.0H110.32" stroke="#000" stroke-width="0.9" fill="none"/>
<path d="M111.34,294.7H114.54M111.34,297.3H114.54" stroke="#000" stroke-width="0.9" fill="none"/>
<path d="M115.55,301.2H118.75M115.55,303.8H118.75" stroke="#000" stroke-width="0.9" fill="none"/>
<path d="M119.77,304.5H122.97M119.77,307.1H122.97" stroke="#000" stroke-width="0.9" fill="none"/>
<path d="M123.99,306.7H127.19M123.99,309.3H127.19" stroke="#000" stroke-width="0.9" fill="none"/>
<path d="M128.21,309.0H131.41M128.21,311.6H131.41" stroke="#000" stroke-width="0.9" fill="none"/>
<path d="M132.43,306.1H135.63M132.43,308.7H135.63" stroke="#000" stroke-width="0.9" fill="none"/>
<path d="M136.64,297.3H139.84M136.64,299.9H139.84" stroke="#000" stroke-width="0.9" fill="none"/>
<path d="M140.86,295.9H144.06M140.86,298.5H144.06" stroke="#000" stroke-width="0.9" fill="none"/>
<path d="M145.08,295.3H148.28M145.08,297.9H148.28" stroke="#000" stroke-width="0.9" fill="none"/>
<path d="M149.30,293.4H152.50M149.30,296.0H152.50" stroke="#000" stroke-width="0.9" fill="none"/>
<path d="M153.52,287.5H156.72M153.52,290.1H156.72" stroke="#000" stroke-width="0.9" fill="none"/>
<path d="M157.73,300.2H160.93M157.73,302.8H160.93" stroke="#000" stroke-width="0.9" fill="none"/>
<path d="M161.95,302.2H165.15M161.95,304.8H165.15" stroke="#000" stroke-width="0.9" fill="none"/>
<path d="M166.17,300.2H169.37M166.17,302.8H169.37" stroke="#000" stroke-width="0.9" fill="none"/>
<path d="M170.39,296.3H173.59M170.39,298.9H173.59" stroke="#000" stroke-width="0.9" fill="none"/>
<path d="M174.61,304.5H177.81M174.61,307.1H177.81" stroke="#000" stroke-width="0.9" fill="none"/>
<path d="M178.82,303.7H182.02M178.82,306.3H182.02" stroke="#000" stroke-width="0.9" fill="none"/>
<path d="M183.04,302.6H186.24M183.04,305.2H186.24" stroke="#000" stroke-width="0.9" fill="none"/>
<path d="M187.26,305.6H190.46M187.26,308.2H190.46" stroke="#000" stroke-width="0.9" fill="none"/>
<path d="M191.48,309.4H194.68M191.48,312.0H194.68" stroke="#000" stroke-width="0.9" fill="none"/>
<path d="M195.70,298.3H198.90M195.70,300.9H198.90" stroke="#000" stroke-width="0.9" fill="none"/>
<path d="M199.91,299.8H203.11M199.91,302.4H203.11" stroke="#000" stroke-width="0.9" fill="none"/>
<path d="M204.13,299.8H207.33M204.13,302.4H207.33" stroke="#000" stroke-width="0.9" fill="none"/>
<path d="M208.35,291.4H211.55M208.35,294.0H211.55" stroke="#000" stroke-width="0.9" fill="none"/>
<path d="M212.57,289.5H215.77M212.57,292.1H215.77" stroke="#000" stroke-width="0.9" fill="none"/>
<path d="M216.79,301.8H219.99M216.79,304.4H219.99" stroke="#000" stroke-width="0.9" fill="none"/>
<path d="M221.00,299.2H224.20M221.00,301.8H224.20" stroke="#000" stroke-width="0.9" fill="none"/>
<path d="M225.22,300.2H228.42M225.22,302.8H228.42" stroke="#000" stroke-width="0.9" fill="none"/>
<path d="M229.44,310.0H232.64M229.44,312.6H232.64" stroke="#000" stroke-width="0.9" fill="none"/>
<path d="M233.66,313.9H236.86M233.66,316.5H236.86" stroke="#000" stroke-width="0.9" fill="none"/>
<path d="M237.88,315.5H241.08M237.88,318.1H241.08" stroke="#000" stroke-width="0.9" fill="none"/>
<path d="M242.09,318.4H245.29M242.09,321.0H245.29" stroke="#000" stroke-width="0.9" fill="none"/>
<path d="M246.31,316.9H249.51M246.31,319.5H249.51" stroke="#000" stroke-width="0.9" fill="none"/>
<path d="M250.53,314.9H253.73M250.53,317.5H253.73" stroke="#000" stroke-width="0.9" fill="none"/>
<path d="M254.75,313.9H257.95M254.75,316.5H257.95" stroke="#000" stroke-width="0.9" fill="none"/>
<path d="M258.97,314.3H262.17M258.97,316.9H262.17" stroke="#000" stroke-width="0.9" fill="none"/>
<path d="M263.18,314.9H266.38M263.18,317.5H266.38" stroke="#000" stroke-width="0.9" fill="none"/>
<path d="M267.40,315.5H270.60M267.40,318.1H270.60" stroke="#000" stroke-width="0.9" fill="none"/>
<path d="M271.62,314.5H274.82M271.62,317.1H274.82" stroke="#000" stroke-width="0.9" fill="none"/>
<path d="M275.84,310.4H279.04M275.84,313.0H279.04" stroke="#000" stroke-width="0.9" fill="none"/>
<path d="M280.06,305.7H283.26M280.06,308.3H283.26" stroke="#000" stroke-width="0.9" fill="none"/>
<path d="M284.27,303.7H287.47M284.27,306.3H287.47" stroke="#000" stroke-width="0.9" fill="none"/>
<path d="M288.49,303.7H291.69M288.49,306.3H291.69" stroke="#000" stroke-width="0.9" fill="none"/>
<path d="M292.71,301.8H295.91M292.71,304.4H295.91" stroke="#000" stroke-width="0.9" fill="none"/>
<path d="M296.93,294.4H300.13M296.93,297.0H300.13" stroke="#000" stroke-width="0.9" fill="none"/>
<path d="M301.15,294.7H304.35M301.15,297.3H304.35" stroke="#000" stroke-width="0.9" fill="none"/>
<path d="M305.36,296.7H308.56M305.36,299.3H308.56" stroke="#000" stroke-width="0.9" fill="none"/>
<path d="M309.58,292.8H312.78M309.58,295.4H312.78" stroke="#000" stroke-width="0.9" fill="none"/>
<path d="M313.80,293.4H317.00M313.80,296.0H317.00" stroke="#000" stroke-width="0.9" fill="none"/>
<path d="M318.02,296.7H321.22M318.02,299.3H321.22" stroke="#000" stroke-width="0.9" fill="none"/>
<path d="M322.24,292.8H325.44M322.24,295.4H325.44" stroke="#000" stroke-width="0.9" fill="none"/>
<path d="M326.45,291.4H329.65M326.45,294.0H329.65" stroke="#000" stroke-width="0.9" fill="none"/>
<path d="M330.67,292.4H333.87M330.67,295.0H333.87" stroke="#000" stroke-width="0.9" fill="none"/>
<path d="M334.89,290.1H338.09M334.89,292.7H338.09" stroke="#000" stroke-width="0.9" fill="none"/>
<path d="M339.11,295.3H342.31M339.11,297.9H342.31" stroke="#000" stroke-width="0.9" fill="none"/>
<path d="M343.33,299.2H346.53M343.33,301.8H346.53" stroke="#000" stroke-width="0.9" fill="none"/>
<path d="M347.54,298.3H350.74M347.54,300.9H350.74" stroke="#000" stroke-width="0.9" fill="none"/>
<path d="M351.76,297.9H354.96M351.76,300.5H354.96" stroke="#000" stroke-width="0.9" fill="none"/>
<path d="M355.98,301.8H359.18M355.98,304.4H359.18" stroke="#000" stroke-width="0.9" fill="none"/>
<text x="17.6" y="389.2" font-size="13.4" text-anchor="start" >C</text>
<rect x="116.7" y="388.2" width="9.4" height="8.5" fill="#fff" stroke="#555" stroke-width="1.2"/>
<text x="132.6" y="397.1" font-size="13.5" text-anchor="start" >vehicle (i.c.v.)</text>
<rect x="116.1" y="404.8" width="10.6" height="10.3" fill="#000"/>
<text x="132.6" y="413.1" font-size="13.54" text-anchor="start" >ODT8-SST (0.75 nmol, i.c.v.)</text>
<line x1="106.5" y1="402.2" x2="106.5" y2="573.3" stroke="#222" stroke-width="1"/>
<path d="M106.5,570.3H311.7V573.0999999999999" stroke="#333" stroke-width="1" fill="none"/>
<line x1="101.5" y1="570.3" x2="106.5" y2="570.3" stroke="#555" stroke-width="1"/>
<text x="94.4" y="574.5999999999999" font-size="13.5" text-anchor="end" >0</text>
<line x1="101.5" y1="528.3" x2="106.5" y2="528.3" stroke="#555" stroke-width="1"/>
<text x="94.4" y="532.5999999999999" font-size="13.5" text-anchor="end" >50</text>
<line x1="101.5" y1="486.3" x2="106.5" y2="486.3" stroke="#555" stroke-width="1"/>
<text x="94.4" y="490.59999999999997" font-size="13.5" text-anchor="end" >100</text>
<line x1="101.5" y1="444.3" x2="106.5" y2="444.3" stroke="#555" stroke-width="1"/>
<text x="94.4" y="448.59999999999997" font-size="13.5" text-anchor="end" >150</text>
<line x1="101.5" y1="402.3" x2="106.5" y2="402.3" stroke="#555" stroke-width="1"/>
<text x="94.4" y="406.59999999999997" font-size="13.5" text-anchor="end" >200</text>
<rect x="150.5" y="441.5" width="58" height="128.8" fill="#fff" stroke="#333" stroke-width="1"/>
<rect x="208.5" y="515.7" width="59.6" height="54.8" fill="#000"/>
<path d="M179.6,441.5V435.6M177.2,435.8H182.2" stroke="#000" stroke-width="1.6" fill="none"/>
<path d="M238,516V512.4M235.6,512.6H240.6" stroke="#000" stroke-width="1.6" fill="none"/>
<text x="179.3" y="563.5" font-size="13.8" text-anchor="middle" >7</text>
<text x="237.8" y="563.5" font-size="13.8" text-anchor="middle" fill="#fff" style="stroke:#fff">7</text>
<text x="231.6" y="502.8" font-size="18" text-anchor="start" letter-spacing="1.1" style="stroke-width:0">**</text>
<text x="207" y="588.2" font-size="13.8" text-anchor="middle" >60</text>
<text x="247.8" y="588.3" font-size="13.45" text-anchor="start" >Time (min)</text>
<text transform="translate(50.7,488.8) rotate(-90)" font-size="13.45" text-anchor="middle">Mean pAUC/60 min</text>
<text transform="translate(67,489.7) rotate(-90)" font-size="13.35" text-anchor="middle">(mmHg x min)</text>
</svg>
</body></html>
